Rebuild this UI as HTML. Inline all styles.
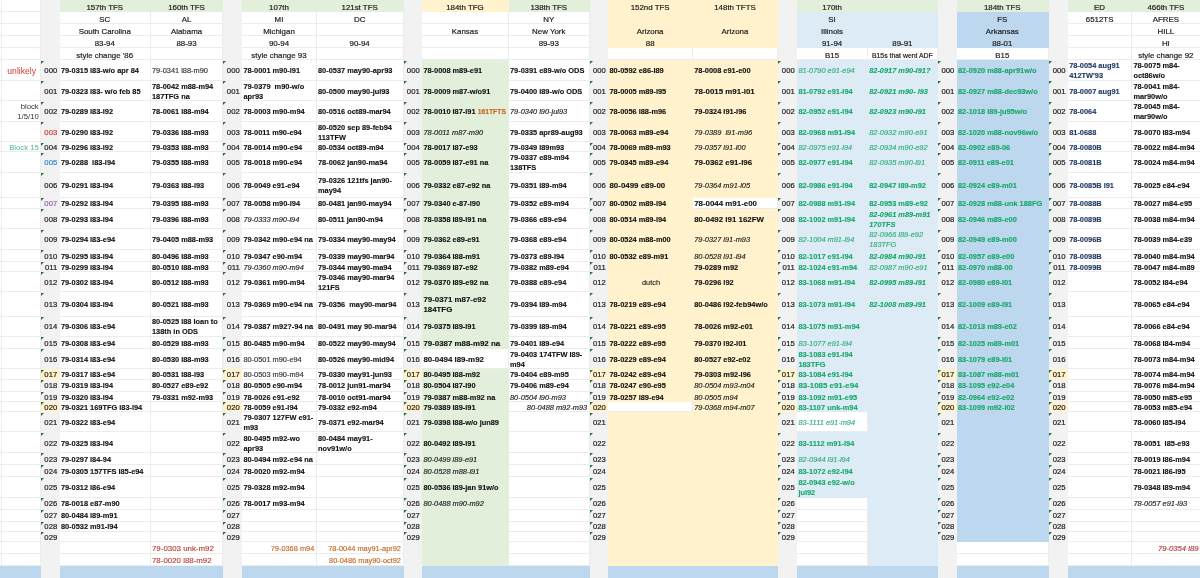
<!DOCTYPE html>
<html><head><meta charset="utf-8"><title>sheet</title><style>
html,body{margin:0;padding:0;background:#fff;}
body{width:1200px;height:578px;overflow:hidden;position:relative;font-family:"Liberation Sans",sans-serif;}
#w{position:absolute;left:0;top:0;width:1200px;height:578px;will-change:transform;}
.r{position:absolute;}
.c{position:absolute;display:flex;align-items:center;box-sizing:border-box;white-space:nowrap;color:#1a1a1a;font-size:7.4px;line-height:10.2px;}
.c>span{display:block;position:relative;top:0.7px;}
.h>span{top:1.7px;}
.c.sh>span{top:1.3px;}
.h{-webkit-text-stroke:0.2px currentColor;justify-content:center;font-size:7.9px;color:#222;}
.h .sm{font-size:6.9px;}
.ix{-webkit-text-stroke:0.2px currentColor;justify-content:flex-end;padding-right:2px;font-size:7.7px;color:#222;}
.a{justify-content:flex-end;text-align:right;padding-right:1.3px;font-size:7.7px;color:#333;}
.d{-webkit-text-stroke:0.12px currentColor;padding-left:1.7px;font-weight:bold;color:#111;}
.d.n{font-weight:normal;}
.d.g{-webkit-text-stroke:0.15px currentColor;font-weight:normal;color:#333;}
.d.i{-webkit-text-stroke:0.15px currentColor;font-weight:normal;font-style:italic;color:#1a1a1a;}
.d.bi{font-style:italic;}
.d.big{font-size:7.9px;}
.d.rt{justify-content:flex-end;padding-right:2px;}
.d.ctr{justify-content:center;color:#222;}
.gr,.d.gr{color:#17a868;}
.d.gr.i{color:#2fae78;}
.d.nv{color:#1f3864;}
.red{color:#c9403a;}
.blu{color:#3a86c8;}
.pur{color:#9460b8;}
.teal{color:#55b596;}
.or,.d.or{color:#c5621c;}
.d.rd{color:#b93a32;}
.sm2{font-size:6.8px;}
.t{position:absolute;width:0;height:0;border-top:3.7px solid #1f7038;border-right:3.7px solid transparent;}
</style></head><body><div id="w">
<div class="r" style="left:1px;top:0;width:1px;height:578px;background:#ececec"></div>
<div class="r" style="left:40px;top:0;width:1px;height:578px;background:#ececec"></div>
<div class="r" style="left:59px;top:0;width:1px;height:578px;background:#ececec"></div>
<div class="r" style="left:150px;top:0;width:1px;height:578px;background:#ececec"></div>
<div class="r" style="left:222px;top:0;width:1px;height:578px;background:#ececec"></div>
<div class="r" style="left:241px;top:0;width:1px;height:578px;background:#ececec"></div>
<div class="r" style="left:316px;top:0;width:1px;height:578px;background:#ececec"></div>
<div class="r" style="left:403px;top:0;width:1px;height:578px;background:#ececec"></div>
<div class="r" style="left:421px;top:0;width:1px;height:578px;background:#ececec"></div>
<div class="r" style="left:508px;top:0;width:1px;height:578px;background:#ececec"></div>
<div class="r" style="left:589px;top:0;width:1px;height:578px;background:#ececec"></div>
<div class="r" style="left:607px;top:0;width:1px;height:578px;background:#ececec"></div>
<div class="r" style="left:692px;top:0;width:1px;height:578px;background:#ececec"></div>
<div class="r" style="left:777px;top:0;width:1px;height:578px;background:#ececec"></div>
<div class="r" style="left:796px;top:0;width:1px;height:578px;background:#ececec"></div>
<div class="r" style="left:867px;top:0;width:1px;height:578px;background:#ececec"></div>
<div class="r" style="left:937px;top:0;width:1px;height:578px;background:#ececec"></div>
<div class="r" style="left:956px;top:0;width:1px;height:578px;background:#ececec"></div>
<div class="r" style="left:1048px;top:0;width:1px;height:578px;background:#ececec"></div>
<div class="r" style="left:1067px;top:0;width:1px;height:578px;background:#ececec"></div>
<div class="r" style="left:1131px;top:0;width:1px;height:578px;background:#ececec"></div>
<div class="r" style="left:0;top:11px;width:1200px;height:1px;background:#ececec"></div>
<div class="r" style="left:0;top:23px;width:1200px;height:1px;background:#ececec"></div>
<div class="r" style="left:0;top:35px;width:1200px;height:1px;background:#ececec"></div>
<div class="r" style="left:0;top:47px;width:1200px;height:1px;background:#ececec"></div>
<div class="r" style="left:0;top:59px;width:1200px;height:1px;background:#ececec"></div>
<div class="r" style="left:0;top:80px;width:1200px;height:1px;background:#ececec"></div>
<div class="r" style="left:0;top:100px;width:1200px;height:1px;background:#ececec"></div>
<div class="r" style="left:0;top:121px;width:1200px;height:1px;background:#ececec"></div>
<div class="r" style="left:0;top:141px;width:1200px;height:1px;background:#ececec"></div>
<div class="r" style="left:0;top:151px;width:1200px;height:1px;background:#ececec"></div>
<div class="r" style="left:0;top:172px;width:1200px;height:1px;background:#ececec"></div>
<div class="r" style="left:0;top:197px;width:1200px;height:1px;background:#ececec"></div>
<div class="r" style="left:0;top:208px;width:1200px;height:1px;background:#ececec"></div>
<div class="r" style="left:0;top:228px;width:1200px;height:1px;background:#ececec"></div>
<div class="r" style="left:0;top:249px;width:1200px;height:1px;background:#ececec"></div>
<div class="r" style="left:0;top:261px;width:1200px;height:1px;background:#ececec"></div>
<div class="r" style="left:0;top:271px;width:1200px;height:1px;background:#ececec"></div>
<div class="r" style="left:0;top:291px;width:1200px;height:1px;background:#ececec"></div>
<div class="r" style="left:0;top:316px;width:1200px;height:1px;background:#ececec"></div>
<div class="r" style="left:0;top:336px;width:1200px;height:1px;background:#ececec"></div>
<div class="r" style="left:0;top:348px;width:1200px;height:1px;background:#ececec"></div>
<div class="r" style="left:0;top:368px;width:1200px;height:1px;background:#ececec"></div>
<div class="r" style="left:0;top:379px;width:1200px;height:1px;background:#ececec"></div>
<div class="r" style="left:0;top:391px;width:1200px;height:1px;background:#ececec"></div>
<div class="r" style="left:0;top:401px;width:1200px;height:1px;background:#ececec"></div>
<div class="r" style="left:0;top:411px;width:1200px;height:1px;background:#ececec"></div>
<div class="r" style="left:0;top:431px;width:1200px;height:1px;background:#ececec"></div>
<div class="r" style="left:0;top:452px;width:1200px;height:1px;background:#ececec"></div>
<div class="r" style="left:0;top:464px;width:1200px;height:1px;background:#ececec"></div>
<div class="r" style="left:0;top:476px;width:1200px;height:1px;background:#ececec"></div>
<div class="r" style="left:0;top:497px;width:1200px;height:1px;background:#ececec"></div>
<div class="r" style="left:0;top:509px;width:1200px;height:1px;background:#ececec"></div>
<div class="r" style="left:0;top:521px;width:1200px;height:1px;background:#ececec"></div>
<div class="r" style="left:0;top:531px;width:1200px;height:1px;background:#ececec"></div>
<div class="r" style="left:0;top:541px;width:1200px;height:1px;background:#ececec"></div>
<div class="r" style="left:0;top:553px;width:1200px;height:1px;background:#ececec"></div>
<div class="r" style="left:0;top:565px;width:1200px;height:1px;background:#ececec"></div>
<div class="r" style="left:0.0px;top:566.0px;width:1200.0px;height:12.0px;background:#bdd7ee;"></div>
<div class="r" style="left:60.0px;top:0.0px;width:163.0px;height:12.0px;background:#e2efda;"></div>
<div class="r" style="left:242.0px;top:0.0px;width:162.0px;height:12.0px;background:#e2efda;"></div>
<div class="r" style="left:422.0px;top:0.0px;width:87.0px;height:12.0px;background:#fff2cc;"></div>
<div class="r" style="left:509.0px;top:0.0px;width:81.0px;height:12.0px;background:#e2efda;"></div>
<div class="r" style="left:608.0px;top:0.0px;width:170.0px;height:12.0px;background:#fff2cc;"></div>
<div class="r" style="left:797.0px;top:0.0px;width:141.0px;height:12.0px;background:#e2efda;"></div>
<div class="r" style="left:957.0px;top:0.0px;width:92.0px;height:12.0px;background:#e2efda;"></div>
<div class="r" style="left:1068.0px;top:0.0px;width:132.0px;height:12.0px;background:#e2efda;"></div>
<div class="r" style="left:422.0px;top:60.0px;width:87.0px;height:289.0px;background:#e2efda;"></div>
<div class="r" style="left:422.0px;top:369.0px;width:87.0px;height:197.0px;background:#e2efda;"></div>
<div class="r" style="left:608.0px;top:0.0px;width:170.0px;height:48.0px;background:#fff2cc;"></div>
<div class="r" style="left:608.0px;top:60.0px;width:85.0px;height:342.0px;background:#fff2cc;"></div>
<div class="r" style="left:608.0px;top:412.0px;width:85.0px;height:154.0px;background:#fff2cc;"></div>
<div class="r" style="left:693.0px;top:60.0px;width:85.0px;height:138.0px;background:#fff2cc;"></div>
<div class="r" style="left:693.0px;top:209.0px;width:85.0px;height:357.0px;background:#fff2cc;"></div>
<div class="r" style="left:797.0px;top:12.0px;width:141.0px;height:36.0px;background:#ddebf7;"></div>
<div class="r" style="left:797.0px;top:60.0px;width:71.0px;height:352.0px;background:#ddebf7;"></div>
<div class="r" style="left:797.0px;top:432.0px;width:71.0px;height:66.0px;background:#ddebf7;"></div>
<div class="r" style="left:868.0px;top:60.0px;width:70.0px;height:506.0px;background:#ddebf7;"></div>
<div class="r" style="left:957.0px;top:12.0px;width:92.0px;height:36.0px;background:#bdd7ee;"></div>
<div class="r" style="left:957.0px;top:60.0px;width:92.0px;height:482.0px;background:#bdd7ee;"></div>
<div class="r" style="left:41.0px;top:0.0px;width:19.0px;height:578.0px;background:#f2f2f2;"></div>
<div class="r" style="left:41.0px;top:369.0px;width:19.0px;height:11.0px;background:#fff2cc;"></div>
<div class="r" style="left:41.0px;top:402.0px;width:19.0px;height:10.0px;background:#fff2cc;"></div>
<div class="r" style="left:223.0px;top:0.0px;width:19.0px;height:578.0px;background:#f2f2f2;"></div>
<div class="r" style="left:223.0px;top:369.0px;width:19.0px;height:11.0px;background:#fff2cc;"></div>
<div class="r" style="left:223.0px;top:402.0px;width:19.0px;height:10.0px;background:#fff2cc;"></div>
<div class="r" style="left:404.0px;top:0.0px;width:18.0px;height:578.0px;background:#f2f2f2;"></div>
<div class="r" style="left:404.0px;top:369.0px;width:18.0px;height:11.0px;background:#fff2cc;"></div>
<div class="r" style="left:404.0px;top:402.0px;width:18.0px;height:10.0px;background:#fff2cc;"></div>
<div class="r" style="left:590.0px;top:0.0px;width:18.0px;height:578.0px;background:#f2f2f2;"></div>
<div class="r" style="left:590.0px;top:369.0px;width:18.0px;height:11.0px;background:#fff2cc;"></div>
<div class="r" style="left:590.0px;top:402.0px;width:18.0px;height:10.0px;background:#fff2cc;"></div>
<div class="r" style="left:778.0px;top:0.0px;width:19.0px;height:578.0px;background:#f2f2f2;"></div>
<div class="r" style="left:778.0px;top:369.0px;width:19.0px;height:11.0px;background:#fff2cc;"></div>
<div class="r" style="left:778.0px;top:402.0px;width:19.0px;height:10.0px;background:#fff2cc;"></div>
<div class="r" style="left:938.0px;top:0.0px;width:19.0px;height:578.0px;background:#f2f2f2;"></div>
<div class="r" style="left:938.0px;top:369.0px;width:19.0px;height:11.0px;background:#fff2cc;"></div>
<div class="r" style="left:938.0px;top:402.0px;width:19.0px;height:10.0px;background:#fff2cc;"></div>
<div class="r" style="left:1049.0px;top:0.0px;width:19.0px;height:578.0px;background:#f2f2f2;"></div>
<div class="r" style="left:1049.0px;top:369.0px;width:19.0px;height:11.0px;background:#fff2cc;"></div>
<div class="r" style="left:1049.0px;top:402.0px;width:19.0px;height:10.0px;background:#fff2cc;"></div>
<div class="c h" style="left:59.2px;top:0.0px;width:91.1px;height:12.1px;"><span>157th TFS</span></div>
<div class="c h" style="left:59.2px;top:12.1px;width:91.1px;height:12.1px;"><span>SC</span></div>
<div class="c h" style="left:59.2px;top:24.2px;width:91.1px;height:12.0px;"><span>South Carolina</span></div>
<div class="c h" style="left:59.2px;top:36.2px;width:91.1px;height:12.0px;"><span>83-94</span></div>
<div class="c h" style="left:59.2px;top:48.2px;width:91.1px;height:12.1px;"><span>style change '86</span></div>
<div class="c h" style="left:150.3px;top:0.0px;width:72.5px;height:12.1px;"><span>160th TFS</span></div>
<div class="c h" style="left:150.3px;top:12.1px;width:72.5px;height:12.1px;"><span>AL</span></div>
<div class="c h" style="left:150.3px;top:24.2px;width:72.5px;height:12.0px;"><span>Alabama</span></div>
<div class="c h" style="left:150.3px;top:36.2px;width:72.5px;height:12.0px;"><span>88-93</span></div>
<div class="c h" style="left:241.7px;top:0.0px;width:74.6px;height:12.1px;"><span>107th</span></div>
<div class="c h" style="left:241.7px;top:12.1px;width:74.6px;height:12.1px;"><span>MI</span></div>
<div class="c h" style="left:241.7px;top:24.2px;width:74.6px;height:12.0px;"><span>Michigan</span></div>
<div class="c h" style="left:241.7px;top:36.2px;width:74.6px;height:12.0px;"><span>90-94</span></div>
<div class="c h" style="left:241.7px;top:48.2px;width:74.6px;height:12.1px;"><span>style change 93</span></div>
<div class="c h" style="left:316.3px;top:0.0px;width:86.7px;height:12.1px;"><span>121st TFS</span></div>
<div class="c h" style="left:316.3px;top:12.1px;width:86.7px;height:12.1px;"><span>DC</span></div>
<div class="c h" style="left:316.3px;top:36.2px;width:86.7px;height:12.0px;"><span>90-94</span></div>
<div class="c h" style="left:421.7px;top:0.0px;width:86.6px;height:12.1px;"><span>184th TFG</span></div>
<div class="c h" style="left:421.7px;top:24.2px;width:86.6px;height:12.0px;"><span>Kansas</span></div>
<div class="c h" style="left:508.3px;top:0.0px;width:80.9px;height:12.1px;"><span>138th TFS</span></div>
<div class="c h" style="left:508.3px;top:12.1px;width:80.9px;height:12.1px;"><span>NY</span></div>
<div class="c h" style="left:508.3px;top:24.2px;width:80.9px;height:12.0px;"><span>New York</span></div>
<div class="c h" style="left:508.3px;top:36.2px;width:80.9px;height:12.0px;"><span>89-93</span></div>
<div class="c h" style="left:607.8px;top:0.0px;width:84.7px;height:12.1px;"><span>152nd TFS</span></div>
<div class="c h" style="left:607.8px;top:24.2px;width:84.7px;height:12.0px;"><span>Arizona</span></div>
<div class="c h" style="left:607.8px;top:36.2px;width:84.7px;height:12.0px;"><span>88</span></div>
<div class="c h" style="left:692.5px;top:0.0px;width:85.0px;height:12.1px;"><span>148th TFTS</span></div>
<div class="c h" style="left:692.5px;top:24.2px;width:85.0px;height:12.0px;"><span>Arizona</span></div>
<div class="c h" style="left:796.7px;top:0.0px;width:70.8px;height:12.1px;"><span>170th</span></div>
<div class="c h" style="left:796.7px;top:12.1px;width:70.8px;height:12.1px;"><span>SI</span></div>
<div class="c h" style="left:796.7px;top:24.2px;width:70.8px;height:12.0px;"><span>Illinois</span></div>
<div class="c h" style="left:796.7px;top:36.2px;width:70.8px;height:12.0px;"><span>91-94</span></div>
<div class="c h" style="left:796.7px;top:48.2px;width:70.8px;height:12.1px;"><span>B15</span></div>
<div class="c h" style="left:867.5px;top:36.2px;width:69.7px;height:12.0px;"><span>89-91</span></div>
<div class="c h" style="left:867.5px;top:48.2px;width:69.7px;height:12.1px;"><span><span class="sm">B15s that went ADF</span></span></div>
<div class="c h" style="left:956.3px;top:0.0px;width:92.0px;height:12.1px;"><span>184th TFS</span></div>
<div class="c h" style="left:956.3px;top:12.1px;width:92.0px;height:12.1px;"><span>FS</span></div>
<div class="c h" style="left:956.3px;top:24.2px;width:92.0px;height:12.0px;"><span>Arkansas</span></div>
<div class="c h" style="left:956.3px;top:36.2px;width:92.0px;height:12.0px;"><span>88-01</span></div>
<div class="c h" style="left:956.3px;top:48.2px;width:92.0px;height:12.1px;"><span>B15</span></div>
<div class="c h" style="left:1067.5px;top:0.0px;width:64.2px;height:12.1px;"><span>ED</span></div>
<div class="c h" style="left:1067.5px;top:12.1px;width:64.2px;height:12.1px;"><span>6512TS</span></div>
<div class="c h" style="left:1131.7px;top:0.0px;width:68.3px;height:12.1px;"><span>466th TFS</span></div>
<div class="c h" style="left:1131.7px;top:12.1px;width:68.3px;height:12.1px;"><span>AFRES</span></div>
<div class="c h" style="left:1131.7px;top:24.2px;width:68.3px;height:12.0px;"><span>HILL</span></div>
<div class="c h" style="left:1131.7px;top:36.2px;width:68.3px;height:12.0px;"><span>HI</span></div>
<div class="c h" style="left:1131.7px;top:48.2px;width:68.3px;height:12.1px;"><span>style change 92</span></div>
<div class="c ix" style="left:40.0px;top:60.3px;width:19.2px;height:20.5px;"><span>000</span></div>
<div class="t" style="left:40.6px;top:60.6px"></div>
<div class="c ix" style="left:40.0px;top:80.8px;width:19.2px;height:20.5px;"><span>001</span></div>
<div class="t" style="left:40.6px;top:81.1px"></div>
<div class="c ix" style="left:40.0px;top:101.3px;width:19.2px;height:20.5px;"><span>002</span></div>
<div class="t" style="left:40.6px;top:101.6px"></div>
<div class="c ix red" style="left:40.0px;top:121.8px;width:19.2px;height:20.5px;"><span>003</span></div>
<div class="t" style="left:40.6px;top:122.1px"></div>
<div class="c ix sh" style="left:40.0px;top:142.3px;width:19.2px;height:10.2px;margin-top:-1px;"><span>004</span></div>
<div class="t" style="left:40.6px;top:142.6px"></div>
<div class="c ix blu" style="left:40.0px;top:152.5px;width:19.2px;height:20.4px;"><span>005</span></div>
<div class="t" style="left:40.6px;top:152.8px"></div>
<div class="c ix" style="left:40.0px;top:172.9px;width:19.2px;height:24.7px;"><span>006</span></div>
<div class="t" style="left:40.6px;top:173.2px"></div>
<div class="c ix pur sh" style="left:40.0px;top:197.6px;width:19.2px;height:11.3px;"><span>007</span></div>
<div class="t" style="left:40.6px;top:197.9px"></div>
<div class="c ix" style="left:40.0px;top:208.9px;width:19.2px;height:20.5px;"><span>008</span></div>
<div class="t" style="left:40.6px;top:209.2px"></div>
<div class="c ix" style="left:40.0px;top:229.4px;width:19.2px;height:20.3px;"><span>009</span></div>
<div class="t" style="left:40.6px;top:229.7px"></div>
<div class="c ix sh" style="left:40.0px;top:249.7px;width:19.2px;height:12.0px;"><span>010</span></div>
<div class="t" style="left:40.6px;top:250.0px"></div>
<div class="c ix sh" style="left:40.0px;top:261.7px;width:19.2px;height:10.4px;"><span>011</span></div>
<div class="t" style="left:40.6px;top:262.0px"></div>
<div class="c ix" style="left:40.0px;top:272.1px;width:19.2px;height:20.4px;"><span>012</span></div>
<div class="t" style="left:40.6px;top:272.4px"></div>
<div class="c ix" style="left:40.0px;top:292.5px;width:19.2px;height:24.2px;"><span>013</span></div>
<div class="t" style="left:40.6px;top:292.8px"></div>
<div class="c ix" style="left:40.0px;top:316.7px;width:19.2px;height:20.1px;"><span>014</span></div>
<div class="t" style="left:40.6px;top:317.0px"></div>
<div class="c ix sh" style="left:40.0px;top:336.8px;width:19.2px;height:12.1px;"><span>015</span></div>
<div class="t" style="left:40.6px;top:337.1px"></div>
<div class="c ix" style="left:40.0px;top:348.9px;width:19.2px;height:20.4px;"><span>016</span></div>
<div class="t" style="left:40.6px;top:349.2px"></div>
<div class="c ix sh" style="left:40.0px;top:369.3px;width:19.2px;height:10.4px;margin-top:-1px;"><span>017</span></div>
<div class="t" style="left:40.6px;top:369.6px"></div>
<div class="c ix sh" style="left:40.0px;top:379.7px;width:19.2px;height:12.1px;margin-top:-1px;"><span>018</span></div>
<div class="t" style="left:40.6px;top:380.0px"></div>
<div class="c ix sh" style="left:40.0px;top:391.8px;width:19.2px;height:10.2px;"><span>019</span></div>
<div class="t" style="left:40.6px;top:392.1px"></div>
<div class="c ix sh" style="left:40.0px;top:402.0px;width:19.2px;height:10.3px;"><span>020</span></div>
<div class="t" style="left:40.6px;top:402.3px"></div>
<div class="c ix" style="left:40.0px;top:412.3px;width:19.2px;height:20.2px;"><span>021</span></div>
<div class="t" style="left:40.6px;top:412.6px"></div>
<div class="c ix" style="left:40.0px;top:432.5px;width:19.2px;height:20.6px;margin-top:1px;"><span>022</span></div>
<div class="t" style="left:40.6px;top:432.8px"></div>
<div class="c ix sh" style="left:40.0px;top:453.1px;width:19.2px;height:12.0px;"><span>023</span></div>
<div class="t" style="left:40.6px;top:453.4px"></div>
<div class="c ix sh" style="left:40.0px;top:465.1px;width:19.2px;height:12.1px;"><span>024</span></div>
<div class="t" style="left:40.6px;top:465.4px"></div>
<div class="c ix" style="left:40.0px;top:477.2px;width:19.2px;height:20.3px;"><span>025</span></div>
<div class="t" style="left:40.6px;top:477.5px"></div>
<div class="c ix sh" style="left:40.0px;top:497.5px;width:19.2px;height:12.2px;margin-top:-1px;"><span>026</span></div>
<div class="t" style="left:40.6px;top:497.8px"></div>
<div class="c ix sh" style="left:40.0px;top:509.7px;width:19.2px;height:12.1px;margin-top:-1px;"><span>027</span></div>
<div class="t" style="left:40.6px;top:510.0px"></div>
<div class="c ix sh" style="left:40.0px;top:521.8px;width:19.2px;height:10.2px;margin-top:-1px;"><span>028</span></div>
<div class="t" style="left:40.6px;top:522.1px"></div>
<div class="c ix sh" style="left:40.0px;top:532.0px;width:19.2px;height:9.9px;"><span>029</span></div>
<div class="t" style="left:40.6px;top:532.3px"></div>
<div class="c ix" style="left:222.8px;top:60.3px;width:18.9px;height:20.5px;"><span>000</span></div>
<div class="t" style="left:223.4px;top:60.6px"></div>
<div class="c ix" style="left:222.8px;top:80.8px;width:18.9px;height:20.5px;"><span>001</span></div>
<div class="t" style="left:223.4px;top:81.1px"></div>
<div class="c ix" style="left:222.8px;top:101.3px;width:18.9px;height:20.5px;"><span>002</span></div>
<div class="t" style="left:223.4px;top:101.6px"></div>
<div class="c ix" style="left:222.8px;top:121.8px;width:18.9px;height:20.5px;"><span>003</span></div>
<div class="t" style="left:223.4px;top:122.1px"></div>
<div class="c ix sh" style="left:222.8px;top:142.3px;width:18.9px;height:10.2px;margin-top:-1px;"><span>004</span></div>
<div class="t" style="left:223.4px;top:142.6px"></div>
<div class="c ix" style="left:222.8px;top:152.5px;width:18.9px;height:20.4px;"><span>005</span></div>
<div class="t" style="left:223.4px;top:152.8px"></div>
<div class="c ix" style="left:222.8px;top:172.9px;width:18.9px;height:24.7px;"><span>006</span></div>
<div class="t" style="left:223.4px;top:173.2px"></div>
<div class="c ix sh" style="left:222.8px;top:197.6px;width:18.9px;height:11.3px;"><span>007</span></div>
<div class="t" style="left:223.4px;top:197.9px"></div>
<div class="c ix" style="left:222.8px;top:208.9px;width:18.9px;height:20.5px;"><span>008</span></div>
<div class="t" style="left:223.4px;top:209.2px"></div>
<div class="c ix" style="left:222.8px;top:229.4px;width:18.9px;height:20.3px;"><span>009</span></div>
<div class="t" style="left:223.4px;top:229.7px"></div>
<div class="c ix sh" style="left:222.8px;top:249.7px;width:18.9px;height:12.0px;"><span>010</span></div>
<div class="t" style="left:223.4px;top:250.0px"></div>
<div class="c ix sh" style="left:222.8px;top:261.7px;width:18.9px;height:10.4px;"><span>011</span></div>
<div class="t" style="left:223.4px;top:262.0px"></div>
<div class="c ix" style="left:222.8px;top:272.1px;width:18.9px;height:20.4px;"><span>012</span></div>
<div class="t" style="left:223.4px;top:272.4px"></div>
<div class="c ix" style="left:222.8px;top:292.5px;width:18.9px;height:24.2px;"><span>013</span></div>
<div class="t" style="left:223.4px;top:292.8px"></div>
<div class="c ix" style="left:222.8px;top:316.7px;width:18.9px;height:20.1px;"><span>014</span></div>
<div class="t" style="left:223.4px;top:317.0px"></div>
<div class="c ix sh" style="left:222.8px;top:336.8px;width:18.9px;height:12.1px;"><span>015</span></div>
<div class="t" style="left:223.4px;top:337.1px"></div>
<div class="c ix" style="left:222.8px;top:348.9px;width:18.9px;height:20.4px;"><span>016</span></div>
<div class="t" style="left:223.4px;top:349.2px"></div>
<div class="c ix sh" style="left:222.8px;top:369.3px;width:18.9px;height:10.4px;margin-top:-1px;"><span>017</span></div>
<div class="t" style="left:223.4px;top:369.6px"></div>
<div class="c ix sh" style="left:222.8px;top:379.7px;width:18.9px;height:12.1px;margin-top:-1px;"><span>018</span></div>
<div class="t" style="left:223.4px;top:380.0px"></div>
<div class="c ix sh" style="left:222.8px;top:391.8px;width:18.9px;height:10.2px;"><span>019</span></div>
<div class="t" style="left:223.4px;top:392.1px"></div>
<div class="c ix sh" style="left:222.8px;top:402.0px;width:18.9px;height:10.3px;"><span>020</span></div>
<div class="t" style="left:223.4px;top:402.3px"></div>
<div class="c ix" style="left:222.8px;top:412.3px;width:18.9px;height:20.2px;"><span>021</span></div>
<div class="t" style="left:223.4px;top:412.6px"></div>
<div class="c ix" style="left:222.8px;top:432.5px;width:18.9px;height:20.6px;margin-top:1px;"><span>022</span></div>
<div class="t" style="left:223.4px;top:432.8px"></div>
<div class="c ix sh" style="left:222.8px;top:453.1px;width:18.9px;height:12.0px;"><span>023</span></div>
<div class="t" style="left:223.4px;top:453.4px"></div>
<div class="c ix sh" style="left:222.8px;top:465.1px;width:18.9px;height:12.1px;"><span>024</span></div>
<div class="t" style="left:223.4px;top:465.4px"></div>
<div class="c ix" style="left:222.8px;top:477.2px;width:18.9px;height:20.3px;"><span>025</span></div>
<div class="t" style="left:223.4px;top:477.5px"></div>
<div class="c ix sh" style="left:222.8px;top:497.5px;width:18.9px;height:12.2px;margin-top:-1px;"><span>026</span></div>
<div class="t" style="left:223.4px;top:497.8px"></div>
<div class="c ix sh" style="left:222.8px;top:509.7px;width:18.9px;height:12.1px;margin-top:-1px;"><span>027</span></div>
<div class="t" style="left:223.4px;top:510.0px"></div>
<div class="c ix sh" style="left:222.8px;top:521.8px;width:18.9px;height:10.2px;margin-top:-1px;"><span>028</span></div>
<div class="t" style="left:223.4px;top:522.1px"></div>
<div class="c ix sh" style="left:222.8px;top:532.0px;width:18.9px;height:9.9px;"><span>029</span></div>
<div class="t" style="left:223.4px;top:532.3px"></div>
<div class="c ix" style="left:403.0px;top:60.3px;width:18.7px;height:20.5px;"><span>000</span></div>
<div class="t" style="left:403.6px;top:60.6px"></div>
<div class="c ix" style="left:403.0px;top:80.8px;width:18.7px;height:20.5px;"><span>001</span></div>
<div class="t" style="left:403.6px;top:81.1px"></div>
<div class="c ix" style="left:403.0px;top:101.3px;width:18.7px;height:20.5px;"><span>002</span></div>
<div class="t" style="left:403.6px;top:101.6px"></div>
<div class="c ix" style="left:403.0px;top:121.8px;width:18.7px;height:20.5px;"><span>003</span></div>
<div class="t" style="left:403.6px;top:122.1px"></div>
<div class="c ix sh" style="left:403.0px;top:142.3px;width:18.7px;height:10.2px;margin-top:-1px;"><span>004</span></div>
<div class="t" style="left:403.6px;top:142.6px"></div>
<div class="c ix" style="left:403.0px;top:152.5px;width:18.7px;height:20.4px;"><span>005</span></div>
<div class="t" style="left:403.6px;top:152.8px"></div>
<div class="c ix" style="left:403.0px;top:172.9px;width:18.7px;height:24.7px;"><span>006</span></div>
<div class="t" style="left:403.6px;top:173.2px"></div>
<div class="c ix sh" style="left:403.0px;top:197.6px;width:18.7px;height:11.3px;"><span>007</span></div>
<div class="t" style="left:403.6px;top:197.9px"></div>
<div class="c ix" style="left:403.0px;top:208.9px;width:18.7px;height:20.5px;"><span>008</span></div>
<div class="t" style="left:403.6px;top:209.2px"></div>
<div class="c ix" style="left:403.0px;top:229.4px;width:18.7px;height:20.3px;"><span>009</span></div>
<div class="t" style="left:403.6px;top:229.7px"></div>
<div class="c ix sh" style="left:403.0px;top:249.7px;width:18.7px;height:12.0px;"><span>010</span></div>
<div class="t" style="left:403.6px;top:250.0px"></div>
<div class="c ix sh" style="left:403.0px;top:261.7px;width:18.7px;height:10.4px;"><span>011</span></div>
<div class="t" style="left:403.6px;top:262.0px"></div>
<div class="c ix" style="left:403.0px;top:272.1px;width:18.7px;height:20.4px;"><span>012</span></div>
<div class="t" style="left:403.6px;top:272.4px"></div>
<div class="c ix" style="left:403.0px;top:292.5px;width:18.7px;height:24.2px;"><span>013</span></div>
<div class="t" style="left:403.6px;top:292.8px"></div>
<div class="c ix" style="left:403.0px;top:316.7px;width:18.7px;height:20.1px;"><span>014</span></div>
<div class="t" style="left:403.6px;top:317.0px"></div>
<div class="c ix sh" style="left:403.0px;top:336.8px;width:18.7px;height:12.1px;"><span>015</span></div>
<div class="t" style="left:403.6px;top:337.1px"></div>
<div class="c ix" style="left:403.0px;top:348.9px;width:18.7px;height:20.4px;"><span>016</span></div>
<div class="t" style="left:403.6px;top:349.2px"></div>
<div class="c ix sh" style="left:403.0px;top:369.3px;width:18.7px;height:10.4px;margin-top:-1px;"><span>017</span></div>
<div class="t" style="left:403.6px;top:369.6px"></div>
<div class="c ix sh" style="left:403.0px;top:379.7px;width:18.7px;height:12.1px;margin-top:-1px;"><span>018</span></div>
<div class="t" style="left:403.6px;top:380.0px"></div>
<div class="c ix sh" style="left:403.0px;top:391.8px;width:18.7px;height:10.2px;"><span>019</span></div>
<div class="t" style="left:403.6px;top:392.1px"></div>
<div class="c ix sh" style="left:403.0px;top:402.0px;width:18.7px;height:10.3px;"><span>020</span></div>
<div class="t" style="left:403.6px;top:402.3px"></div>
<div class="c ix" style="left:403.0px;top:412.3px;width:18.7px;height:20.2px;"><span>021</span></div>
<div class="t" style="left:403.6px;top:412.6px"></div>
<div class="c ix" style="left:403.0px;top:432.5px;width:18.7px;height:20.6px;margin-top:1px;"><span>022</span></div>
<div class="t" style="left:403.6px;top:432.8px"></div>
<div class="c ix sh" style="left:403.0px;top:453.1px;width:18.7px;height:12.0px;"><span>023</span></div>
<div class="t" style="left:403.6px;top:453.4px"></div>
<div class="c ix sh" style="left:403.0px;top:465.1px;width:18.7px;height:12.1px;"><span>024</span></div>
<div class="t" style="left:403.6px;top:465.4px"></div>
<div class="c ix" style="left:403.0px;top:477.2px;width:18.7px;height:20.3px;"><span>025</span></div>
<div class="t" style="left:403.6px;top:477.5px"></div>
<div class="c ix sh" style="left:403.0px;top:497.5px;width:18.7px;height:12.2px;margin-top:-1px;"><span>026</span></div>
<div class="t" style="left:403.6px;top:497.8px"></div>
<div class="c ix sh" style="left:403.0px;top:509.7px;width:18.7px;height:12.1px;margin-top:-1px;"><span>027</span></div>
<div class="t" style="left:403.6px;top:510.0px"></div>
<div class="c ix sh" style="left:403.0px;top:521.8px;width:18.7px;height:10.2px;margin-top:-1px;"><span>028</span></div>
<div class="t" style="left:403.6px;top:522.1px"></div>
<div class="c ix sh" style="left:403.0px;top:532.0px;width:18.7px;height:9.9px;"><span>029</span></div>
<div class="t" style="left:403.6px;top:532.3px"></div>
<div class="c ix" style="left:589.2px;top:60.3px;width:18.6px;height:20.5px;"><span>000</span></div>
<div class="t" style="left:589.8px;top:60.6px"></div>
<div class="c ix" style="left:589.2px;top:80.8px;width:18.6px;height:20.5px;"><span>001</span></div>
<div class="t" style="left:589.8px;top:81.1px"></div>
<div class="c ix" style="left:589.2px;top:101.3px;width:18.6px;height:20.5px;"><span>002</span></div>
<div class="t" style="left:589.8px;top:101.6px"></div>
<div class="c ix" style="left:589.2px;top:121.8px;width:18.6px;height:20.5px;"><span>003</span></div>
<div class="t" style="left:589.8px;top:122.1px"></div>
<div class="c ix sh" style="left:589.2px;top:142.3px;width:18.6px;height:10.2px;margin-top:-1px;"><span>004</span></div>
<div class="t" style="left:589.8px;top:142.6px"></div>
<div class="c ix" style="left:589.2px;top:152.5px;width:18.6px;height:20.4px;"><span>005</span></div>
<div class="t" style="left:589.8px;top:152.8px"></div>
<div class="c ix" style="left:589.2px;top:172.9px;width:18.6px;height:24.7px;"><span>006</span></div>
<div class="t" style="left:589.8px;top:173.2px"></div>
<div class="c ix sh" style="left:589.2px;top:197.6px;width:18.6px;height:11.3px;"><span>007</span></div>
<div class="t" style="left:589.8px;top:197.9px"></div>
<div class="c ix" style="left:589.2px;top:208.9px;width:18.6px;height:20.5px;"><span>008</span></div>
<div class="t" style="left:589.8px;top:209.2px"></div>
<div class="c ix" style="left:589.2px;top:229.4px;width:18.6px;height:20.3px;"><span>009</span></div>
<div class="t" style="left:589.8px;top:229.7px"></div>
<div class="c ix sh" style="left:589.2px;top:249.7px;width:18.6px;height:12.0px;"><span>010</span></div>
<div class="t" style="left:589.8px;top:250.0px"></div>
<div class="c ix sh" style="left:589.2px;top:261.7px;width:18.6px;height:10.4px;"><span>011</span></div>
<div class="t" style="left:589.8px;top:262.0px"></div>
<div class="c ix" style="left:589.2px;top:272.1px;width:18.6px;height:20.4px;"><span>012</span></div>
<div class="t" style="left:589.8px;top:272.4px"></div>
<div class="c ix" style="left:589.2px;top:292.5px;width:18.6px;height:24.2px;"><span>013</span></div>
<div class="t" style="left:589.8px;top:292.8px"></div>
<div class="c ix" style="left:589.2px;top:316.7px;width:18.6px;height:20.1px;"><span>014</span></div>
<div class="t" style="left:589.8px;top:317.0px"></div>
<div class="c ix sh" style="left:589.2px;top:336.8px;width:18.6px;height:12.1px;"><span>015</span></div>
<div class="t" style="left:589.8px;top:337.1px"></div>
<div class="c ix" style="left:589.2px;top:348.9px;width:18.6px;height:20.4px;"><span>016</span></div>
<div class="t" style="left:589.8px;top:349.2px"></div>
<div class="c ix sh" style="left:589.2px;top:369.3px;width:18.6px;height:10.4px;margin-top:-1px;"><span>017</span></div>
<div class="t" style="left:589.8px;top:369.6px"></div>
<div class="c ix sh" style="left:589.2px;top:379.7px;width:18.6px;height:12.1px;margin-top:-1px;"><span>018</span></div>
<div class="t" style="left:589.8px;top:380.0px"></div>
<div class="c ix sh" style="left:589.2px;top:391.8px;width:18.6px;height:10.2px;"><span>019</span></div>
<div class="t" style="left:589.8px;top:392.1px"></div>
<div class="c ix sh" style="left:589.2px;top:402.0px;width:18.6px;height:10.3px;"><span>020</span></div>
<div class="t" style="left:589.8px;top:402.3px"></div>
<div class="c ix" style="left:589.2px;top:412.3px;width:18.6px;height:20.2px;"><span>021</span></div>
<div class="t" style="left:589.8px;top:412.6px"></div>
<div class="c ix" style="left:589.2px;top:432.5px;width:18.6px;height:20.6px;margin-top:1px;"><span>022</span></div>
<div class="t" style="left:589.8px;top:432.8px"></div>
<div class="c ix sh" style="left:589.2px;top:453.1px;width:18.6px;height:12.0px;"><span>023</span></div>
<div class="t" style="left:589.8px;top:453.4px"></div>
<div class="c ix sh" style="left:589.2px;top:465.1px;width:18.6px;height:12.1px;"><span>024</span></div>
<div class="t" style="left:589.8px;top:465.4px"></div>
<div class="c ix" style="left:589.2px;top:477.2px;width:18.6px;height:20.3px;"><span>025</span></div>
<div class="t" style="left:589.8px;top:477.5px"></div>
<div class="c ix sh" style="left:589.2px;top:497.5px;width:18.6px;height:12.2px;margin-top:-1px;"><span>026</span></div>
<div class="t" style="left:589.8px;top:497.8px"></div>
<div class="c ix sh" style="left:589.2px;top:509.7px;width:18.6px;height:12.1px;margin-top:-1px;"><span>027</span></div>
<div class="t" style="left:589.8px;top:510.0px"></div>
<div class="c ix sh" style="left:589.2px;top:521.8px;width:18.6px;height:10.2px;margin-top:-1px;"><span>028</span></div>
<div class="t" style="left:589.8px;top:522.1px"></div>
<div class="c ix sh" style="left:589.2px;top:532.0px;width:18.6px;height:9.9px;"><span>029</span></div>
<div class="t" style="left:589.8px;top:532.3px"></div>
<div class="c ix" style="left:777.5px;top:60.3px;width:19.2px;height:20.5px;"><span>000</span></div>
<div class="t" style="left:778.1px;top:60.6px"></div>
<div class="c ix" style="left:777.5px;top:80.8px;width:19.2px;height:20.5px;"><span>001</span></div>
<div class="t" style="left:778.1px;top:81.1px"></div>
<div class="c ix" style="left:777.5px;top:101.3px;width:19.2px;height:20.5px;"><span>002</span></div>
<div class="t" style="left:778.1px;top:101.6px"></div>
<div class="c ix" style="left:777.5px;top:121.8px;width:19.2px;height:20.5px;"><span>003</span></div>
<div class="t" style="left:778.1px;top:122.1px"></div>
<div class="c ix sh" style="left:777.5px;top:142.3px;width:19.2px;height:10.2px;margin-top:-1px;"><span>004</span></div>
<div class="t" style="left:778.1px;top:142.6px"></div>
<div class="c ix" style="left:777.5px;top:152.5px;width:19.2px;height:20.4px;"><span>005</span></div>
<div class="t" style="left:778.1px;top:152.8px"></div>
<div class="c ix" style="left:777.5px;top:172.9px;width:19.2px;height:24.7px;"><span>006</span></div>
<div class="t" style="left:778.1px;top:173.2px"></div>
<div class="c ix sh" style="left:777.5px;top:197.6px;width:19.2px;height:11.3px;"><span>007</span></div>
<div class="t" style="left:778.1px;top:197.9px"></div>
<div class="c ix" style="left:777.5px;top:208.9px;width:19.2px;height:20.5px;"><span>008</span></div>
<div class="t" style="left:778.1px;top:209.2px"></div>
<div class="c ix" style="left:777.5px;top:229.4px;width:19.2px;height:20.3px;"><span>009</span></div>
<div class="t" style="left:778.1px;top:229.7px"></div>
<div class="c ix sh" style="left:777.5px;top:249.7px;width:19.2px;height:12.0px;"><span>010</span></div>
<div class="t" style="left:778.1px;top:250.0px"></div>
<div class="c ix sh" style="left:777.5px;top:261.7px;width:19.2px;height:10.4px;"><span>011</span></div>
<div class="t" style="left:778.1px;top:262.0px"></div>
<div class="c ix" style="left:777.5px;top:272.1px;width:19.2px;height:20.4px;"><span>012</span></div>
<div class="t" style="left:778.1px;top:272.4px"></div>
<div class="c ix" style="left:777.5px;top:292.5px;width:19.2px;height:24.2px;"><span>013</span></div>
<div class="t" style="left:778.1px;top:292.8px"></div>
<div class="c ix" style="left:777.5px;top:316.7px;width:19.2px;height:20.1px;"><span>014</span></div>
<div class="t" style="left:778.1px;top:317.0px"></div>
<div class="c ix sh" style="left:777.5px;top:336.8px;width:19.2px;height:12.1px;"><span>015</span></div>
<div class="t" style="left:778.1px;top:337.1px"></div>
<div class="c ix" style="left:777.5px;top:348.9px;width:19.2px;height:20.4px;"><span>016</span></div>
<div class="t" style="left:778.1px;top:349.2px"></div>
<div class="c ix sh" style="left:777.5px;top:369.3px;width:19.2px;height:10.4px;margin-top:-1px;"><span>017</span></div>
<div class="t" style="left:778.1px;top:369.6px"></div>
<div class="c ix sh" style="left:777.5px;top:379.7px;width:19.2px;height:12.1px;margin-top:-1px;"><span>018</span></div>
<div class="t" style="left:778.1px;top:380.0px"></div>
<div class="c ix sh" style="left:777.5px;top:391.8px;width:19.2px;height:10.2px;"><span>019</span></div>
<div class="t" style="left:778.1px;top:392.1px"></div>
<div class="c ix sh" style="left:777.5px;top:402.0px;width:19.2px;height:10.3px;"><span>020</span></div>
<div class="t" style="left:778.1px;top:402.3px"></div>
<div class="c ix" style="left:777.5px;top:412.3px;width:19.2px;height:20.2px;"><span>021</span></div>
<div class="t" style="left:778.1px;top:412.6px"></div>
<div class="c ix" style="left:777.5px;top:432.5px;width:19.2px;height:20.6px;margin-top:1px;"><span>022</span></div>
<div class="t" style="left:778.1px;top:432.8px"></div>
<div class="c ix sh" style="left:777.5px;top:453.1px;width:19.2px;height:12.0px;"><span>023</span></div>
<div class="t" style="left:778.1px;top:453.4px"></div>
<div class="c ix sh" style="left:777.5px;top:465.1px;width:19.2px;height:12.1px;"><span>024</span></div>
<div class="t" style="left:778.1px;top:465.4px"></div>
<div class="c ix" style="left:777.5px;top:477.2px;width:19.2px;height:20.3px;"><span>025</span></div>
<div class="t" style="left:778.1px;top:477.5px"></div>
<div class="c ix sh" style="left:777.5px;top:497.5px;width:19.2px;height:12.2px;margin-top:-1px;"><span>026</span></div>
<div class="t" style="left:778.1px;top:497.8px"></div>
<div class="c ix sh" style="left:777.5px;top:509.7px;width:19.2px;height:12.1px;margin-top:-1px;"><span>027</span></div>
<div class="t" style="left:778.1px;top:510.0px"></div>
<div class="c ix sh" style="left:777.5px;top:521.8px;width:19.2px;height:10.2px;margin-top:-1px;"><span>028</span></div>
<div class="t" style="left:778.1px;top:522.1px"></div>
<div class="c ix sh" style="left:777.5px;top:532.0px;width:19.2px;height:9.9px;"><span>029</span></div>
<div class="t" style="left:778.1px;top:532.3px"></div>
<div class="c ix" style="left:937.2px;top:60.3px;width:19.1px;height:20.5px;"><span>000</span></div>
<div class="t" style="left:937.8px;top:60.6px"></div>
<div class="c ix" style="left:937.2px;top:80.8px;width:19.1px;height:20.5px;"><span>001</span></div>
<div class="t" style="left:937.8px;top:81.1px"></div>
<div class="c ix" style="left:937.2px;top:101.3px;width:19.1px;height:20.5px;"><span>002</span></div>
<div class="t" style="left:937.8px;top:101.6px"></div>
<div class="c ix" style="left:937.2px;top:121.8px;width:19.1px;height:20.5px;"><span>003</span></div>
<div class="t" style="left:937.8px;top:122.1px"></div>
<div class="c ix sh" style="left:937.2px;top:142.3px;width:19.1px;height:10.2px;margin-top:-1px;"><span>004</span></div>
<div class="t" style="left:937.8px;top:142.6px"></div>
<div class="c ix" style="left:937.2px;top:152.5px;width:19.1px;height:20.4px;"><span>005</span></div>
<div class="t" style="left:937.8px;top:152.8px"></div>
<div class="c ix" style="left:937.2px;top:172.9px;width:19.1px;height:24.7px;"><span>006</span></div>
<div class="t" style="left:937.8px;top:173.2px"></div>
<div class="c ix sh" style="left:937.2px;top:197.6px;width:19.1px;height:11.3px;"><span>007</span></div>
<div class="t" style="left:937.8px;top:197.9px"></div>
<div class="c ix" style="left:937.2px;top:208.9px;width:19.1px;height:20.5px;"><span>008</span></div>
<div class="t" style="left:937.8px;top:209.2px"></div>
<div class="c ix" style="left:937.2px;top:229.4px;width:19.1px;height:20.3px;"><span>009</span></div>
<div class="t" style="left:937.8px;top:229.7px"></div>
<div class="c ix sh" style="left:937.2px;top:249.7px;width:19.1px;height:12.0px;"><span>010</span></div>
<div class="t" style="left:937.8px;top:250.0px"></div>
<div class="c ix sh" style="left:937.2px;top:261.7px;width:19.1px;height:10.4px;"><span>011</span></div>
<div class="t" style="left:937.8px;top:262.0px"></div>
<div class="c ix" style="left:937.2px;top:272.1px;width:19.1px;height:20.4px;"><span>012</span></div>
<div class="t" style="left:937.8px;top:272.4px"></div>
<div class="c ix" style="left:937.2px;top:292.5px;width:19.1px;height:24.2px;"><span>013</span></div>
<div class="t" style="left:937.8px;top:292.8px"></div>
<div class="c ix" style="left:937.2px;top:316.7px;width:19.1px;height:20.1px;"><span>014</span></div>
<div class="t" style="left:937.8px;top:317.0px"></div>
<div class="c ix sh" style="left:937.2px;top:336.8px;width:19.1px;height:12.1px;"><span>015</span></div>
<div class="t" style="left:937.8px;top:337.1px"></div>
<div class="c ix" style="left:937.2px;top:348.9px;width:19.1px;height:20.4px;"><span>016</span></div>
<div class="t" style="left:937.8px;top:349.2px"></div>
<div class="c ix sh" style="left:937.2px;top:369.3px;width:19.1px;height:10.4px;margin-top:-1px;"><span>017</span></div>
<div class="t" style="left:937.8px;top:369.6px"></div>
<div class="c ix sh" style="left:937.2px;top:379.7px;width:19.1px;height:12.1px;margin-top:-1px;"><span>018</span></div>
<div class="t" style="left:937.8px;top:380.0px"></div>
<div class="c ix sh" style="left:937.2px;top:391.8px;width:19.1px;height:10.2px;"><span>019</span></div>
<div class="t" style="left:937.8px;top:392.1px"></div>
<div class="c ix sh" style="left:937.2px;top:402.0px;width:19.1px;height:10.3px;"><span>020</span></div>
<div class="t" style="left:937.8px;top:402.3px"></div>
<div class="c ix" style="left:937.2px;top:412.3px;width:19.1px;height:20.2px;"><span>021</span></div>
<div class="t" style="left:937.8px;top:412.6px"></div>
<div class="c ix" style="left:937.2px;top:432.5px;width:19.1px;height:20.6px;margin-top:1px;"><span>022</span></div>
<div class="t" style="left:937.8px;top:432.8px"></div>
<div class="c ix sh" style="left:937.2px;top:453.1px;width:19.1px;height:12.0px;"><span>023</span></div>
<div class="t" style="left:937.8px;top:453.4px"></div>
<div class="c ix sh" style="left:937.2px;top:465.1px;width:19.1px;height:12.1px;"><span>024</span></div>
<div class="t" style="left:937.8px;top:465.4px"></div>
<div class="c ix" style="left:937.2px;top:477.2px;width:19.1px;height:20.3px;"><span>025</span></div>
<div class="t" style="left:937.8px;top:477.5px"></div>
<div class="c ix sh" style="left:937.2px;top:497.5px;width:19.1px;height:12.2px;margin-top:-1px;"><span>026</span></div>
<div class="t" style="left:937.8px;top:497.8px"></div>
<div class="c ix sh" style="left:937.2px;top:509.7px;width:19.1px;height:12.1px;margin-top:-1px;"><span>027</span></div>
<div class="t" style="left:937.8px;top:510.0px"></div>
<div class="c ix sh" style="left:937.2px;top:521.8px;width:19.1px;height:10.2px;margin-top:-1px;"><span>028</span></div>
<div class="t" style="left:937.8px;top:522.1px"></div>
<div class="c ix sh" style="left:937.2px;top:532.0px;width:19.1px;height:9.9px;"><span>029</span></div>
<div class="t" style="left:937.8px;top:532.3px"></div>
<div class="c ix" style="left:1048.3px;top:60.3px;width:19.2px;height:20.5px;"><span>000</span></div>
<div class="t" style="left:1048.9px;top:60.6px"></div>
<div class="c ix" style="left:1048.3px;top:80.8px;width:19.2px;height:20.5px;"><span>001</span></div>
<div class="t" style="left:1048.9px;top:81.1px"></div>
<div class="c ix" style="left:1048.3px;top:101.3px;width:19.2px;height:20.5px;"><span>002</span></div>
<div class="t" style="left:1048.9px;top:101.6px"></div>
<div class="c ix" style="left:1048.3px;top:121.8px;width:19.2px;height:20.5px;"><span>003</span></div>
<div class="t" style="left:1048.9px;top:122.1px"></div>
<div class="c ix sh" style="left:1048.3px;top:142.3px;width:19.2px;height:10.2px;margin-top:-1px;"><span>004</span></div>
<div class="t" style="left:1048.9px;top:142.6px"></div>
<div class="c ix" style="left:1048.3px;top:152.5px;width:19.2px;height:20.4px;"><span>005</span></div>
<div class="t" style="left:1048.9px;top:152.8px"></div>
<div class="c ix" style="left:1048.3px;top:172.9px;width:19.2px;height:24.7px;"><span>006</span></div>
<div class="t" style="left:1048.9px;top:173.2px"></div>
<div class="c ix sh" style="left:1048.3px;top:197.6px;width:19.2px;height:11.3px;"><span>007</span></div>
<div class="t" style="left:1048.9px;top:197.9px"></div>
<div class="c ix" style="left:1048.3px;top:208.9px;width:19.2px;height:20.5px;"><span>008</span></div>
<div class="t" style="left:1048.9px;top:209.2px"></div>
<div class="c ix" style="left:1048.3px;top:229.4px;width:19.2px;height:20.3px;"><span>009</span></div>
<div class="t" style="left:1048.9px;top:229.7px"></div>
<div class="c ix sh" style="left:1048.3px;top:249.7px;width:19.2px;height:12.0px;"><span>010</span></div>
<div class="t" style="left:1048.9px;top:250.0px"></div>
<div class="c ix sh" style="left:1048.3px;top:261.7px;width:19.2px;height:10.4px;"><span>011</span></div>
<div class="t" style="left:1048.9px;top:262.0px"></div>
<div class="c ix" style="left:1048.3px;top:272.1px;width:19.2px;height:20.4px;"><span>012</span></div>
<div class="t" style="left:1048.9px;top:272.4px"></div>
<div class="c ix" style="left:1048.3px;top:292.5px;width:19.2px;height:24.2px;"><span>013</span></div>
<div class="t" style="left:1048.9px;top:292.8px"></div>
<div class="c ix" style="left:1048.3px;top:316.7px;width:19.2px;height:20.1px;"><span>014</span></div>
<div class="t" style="left:1048.9px;top:317.0px"></div>
<div class="c ix sh" style="left:1048.3px;top:336.8px;width:19.2px;height:12.1px;"><span>015</span></div>
<div class="t" style="left:1048.9px;top:337.1px"></div>
<div class="c ix" style="left:1048.3px;top:348.9px;width:19.2px;height:20.4px;"><span>016</span></div>
<div class="t" style="left:1048.9px;top:349.2px"></div>
<div class="c ix sh" style="left:1048.3px;top:369.3px;width:19.2px;height:10.4px;margin-top:-1px;"><span>017</span></div>
<div class="t" style="left:1048.9px;top:369.6px"></div>
<div class="c ix sh" style="left:1048.3px;top:379.7px;width:19.2px;height:12.1px;margin-top:-1px;"><span>018</span></div>
<div class="t" style="left:1048.9px;top:380.0px"></div>
<div class="c ix sh" style="left:1048.3px;top:391.8px;width:19.2px;height:10.2px;"><span>019</span></div>
<div class="t" style="left:1048.9px;top:392.1px"></div>
<div class="c ix sh" style="left:1048.3px;top:402.0px;width:19.2px;height:10.3px;"><span>020</span></div>
<div class="t" style="left:1048.9px;top:402.3px"></div>
<div class="c ix" style="left:1048.3px;top:412.3px;width:19.2px;height:20.2px;"><span>021</span></div>
<div class="t" style="left:1048.9px;top:412.6px"></div>
<div class="c ix" style="left:1048.3px;top:432.5px;width:19.2px;height:20.6px;margin-top:1px;"><span>022</span></div>
<div class="t" style="left:1048.9px;top:432.8px"></div>
<div class="c ix sh" style="left:1048.3px;top:453.1px;width:19.2px;height:12.0px;"><span>023</span></div>
<div class="t" style="left:1048.9px;top:453.4px"></div>
<div class="c ix sh" style="left:1048.3px;top:465.1px;width:19.2px;height:12.1px;"><span>024</span></div>
<div class="t" style="left:1048.9px;top:465.4px"></div>
<div class="c ix" style="left:1048.3px;top:477.2px;width:19.2px;height:20.3px;"><span>025</span></div>
<div class="t" style="left:1048.9px;top:477.5px"></div>
<div class="c ix sh" style="left:1048.3px;top:497.5px;width:19.2px;height:12.2px;margin-top:-1px;"><span>026</span></div>
<div class="t" style="left:1048.9px;top:497.8px"></div>
<div class="c ix sh" style="left:1048.3px;top:509.7px;width:19.2px;height:12.1px;margin-top:-1px;"><span>027</span></div>
<div class="t" style="left:1048.9px;top:510.0px"></div>
<div class="c ix sh" style="left:1048.3px;top:521.8px;width:19.2px;height:10.2px;margin-top:-1px;"><span>028</span></div>
<div class="t" style="left:1048.9px;top:522.1px"></div>
<div class="c ix sh" style="left:1048.3px;top:532.0px;width:19.2px;height:9.9px;"><span>029</span></div>
<div class="t" style="left:1048.9px;top:532.3px"></div>
<div class="c a red" style="left:0.0px;top:60.3px;width:40.0px;height:20.5px;font-size:8.6px;padding-right:4px;"><span>unlikely</span></div>
<div class="c a" style="left:0.0px;top:101.3px;width:40.0px;height:20.5px;"><span>block<br>1/5/10</span></div>
<div class="c a teal sh" style="left:0.0px;top:142.3px;width:40.0px;height:10.2px;margin-top:-1px;"><span>Block 15</span></div>
<div class="c d  " style="left:59.2px;top:60.3px;width:91.1px;height:20.5px;"><span>79-0315 l83-w/o apr 84</span></div>
<div class="c d  " style="left:59.2px;top:80.8px;width:91.1px;height:20.5px;"><span>79-0323 l83- w/o feb 85</span></div>
<div class="c d  " style="left:59.2px;top:101.3px;width:91.1px;height:20.5px;"><span>79-0289 l83-l92</span></div>
<div class="c d  " style="left:59.2px;top:121.8px;width:91.1px;height:20.5px;"><span>79-0290 l83-l92</span></div>
<div class="c d   sh" style="left:59.2px;top:142.3px;width:91.1px;height:10.2px;margin-top:-1px;"><span>79-0296 l83-l92</span></div>
<div class="c d  " style="left:59.2px;top:152.5px;width:91.1px;height:20.4px;"><span>79-0288&nbsp; l83-l94</span></div>
<div class="c d  " style="left:59.2px;top:172.9px;width:91.1px;height:24.7px;"><span>79-0291 l83-l94</span></div>
<div class="c d   sh" style="left:59.2px;top:197.6px;width:91.1px;height:11.3px;"><span>79-0292 l83-l94</span></div>
<div class="c d  " style="left:59.2px;top:208.9px;width:91.1px;height:20.5px;"><span>79-0293 l83-l94</span></div>
<div class="c d  " style="left:59.2px;top:229.4px;width:91.1px;height:20.3px;"><span>79-0294 l83-e94</span></div>
<div class="c d   sh" style="left:59.2px;top:249.7px;width:91.1px;height:12.0px;"><span>79-0295 l83-l94</span></div>
<div class="c d   sh" style="left:59.2px;top:261.7px;width:91.1px;height:10.4px;"><span>79-0299 l83-l94</span></div>
<div class="c d  " style="left:59.2px;top:272.1px;width:91.1px;height:20.4px;"><span>79-0302 l83-l94</span></div>
<div class="c d  " style="left:59.2px;top:292.5px;width:91.1px;height:24.2px;"><span>79-0304 l83-l94</span></div>
<div class="c d  " style="left:59.2px;top:316.7px;width:91.1px;height:20.1px;"><span>79-0306 l83-e94</span></div>
<div class="c d   sh" style="left:59.2px;top:336.8px;width:91.1px;height:12.1px;"><span>79-0308 l83-e94</span></div>
<div class="c d  " style="left:59.2px;top:348.9px;width:91.1px;height:20.4px;"><span>79-0314 l83-e94</span></div>
<div class="c d   sh" style="left:59.2px;top:369.3px;width:91.1px;height:10.4px;margin-top:-1px;"><span>79-0317 l83-e94</span></div>
<div class="c d   sh" style="left:59.2px;top:379.7px;width:91.1px;height:12.1px;margin-top:-1px;"><span>79-0319 l83-l94</span></div>
<div class="c d   sh" style="left:59.2px;top:391.8px;width:91.1px;height:10.2px;"><span>79-0320 l83-l94</span></div>
<div class="c d   sh" style="left:59.2px;top:402.0px;width:91.1px;height:10.3px;"><span>79-0321 169TFG l83-l94</span></div>
<div class="c d  " style="left:59.2px;top:412.3px;width:91.1px;height:20.2px;"><span>79-0322 l83-e94</span></div>
<div class="c d  " style="left:59.2px;top:432.5px;width:91.1px;height:20.6px;margin-top:1px;"><span>79-0325 l83-l94</span></div>
<div class="c d   sh" style="left:59.2px;top:453.1px;width:91.1px;height:12.0px;"><span>79-0297 l84-94</span></div>
<div class="c d   sh" style="left:59.2px;top:465.1px;width:91.1px;height:12.1px;"><span>79-0305 157TFS l85-e94</span></div>
<div class="c d  " style="left:59.2px;top:477.2px;width:91.1px;height:20.3px;"><span>79-0312 l86-e94</span></div>
<div class="c d   sh" style="left:59.2px;top:497.5px;width:91.1px;height:12.2px;margin-top:-1px;"><span>78-0018 e87-m90</span></div>
<div class="c d   sh" style="left:59.2px;top:509.7px;width:91.1px;height:12.1px;margin-top:-1px;"><span>80-0484 l89-m91</span></div>
<div class="c d   sh" style="left:59.2px;top:521.8px;width:91.1px;height:10.2px;margin-top:-1px;"><span>80-0532 m91-l94</span></div>
<div class="c d  g" style="left:150.3px;top:60.3px;width:72.5px;height:20.5px;"><span>79-0341 l88-m90</span></div>
<div class="c d  " style="left:150.3px;top:80.8px;width:72.5px;height:20.5px;"><span>78-0042 m88-m94<br>187TFG na</span></div>
<div class="c d  " style="left:150.3px;top:101.3px;width:72.5px;height:20.5px;"><span>78-0061 l88-m94</span></div>
<div class="c d  " style="left:150.3px;top:121.8px;width:72.5px;height:20.5px;"><span>79-0336 l88-m93</span></div>
<div class="c d   sh" style="left:150.3px;top:142.3px;width:72.5px;height:10.2px;margin-top:-1px;"><span>79-0353 l88-m93</span></div>
<div class="c d  " style="left:150.3px;top:152.5px;width:72.5px;height:20.4px;"><span>79-0355 l88-m93</span></div>
<div class="c d  " style="left:150.3px;top:172.9px;width:72.5px;height:24.7px;"><span>79-0363 l88-l93</span></div>
<div class="c d   sh" style="left:150.3px;top:197.6px;width:72.5px;height:11.3px;"><span>79-0395 l88-m93</span></div>
<div class="c d  " style="left:150.3px;top:208.9px;width:72.5px;height:20.5px;"><span>79-0396 l88-m93</span></div>
<div class="c d  " style="left:150.3px;top:229.4px;width:72.5px;height:20.3px;"><span>79-0405 m88-m93</span></div>
<div class="c d   sh" style="left:150.3px;top:249.7px;width:72.5px;height:12.0px;"><span>80-0496 l88-m93</span></div>
<div class="c d   sh" style="left:150.3px;top:261.7px;width:72.5px;height:10.4px;"><span>80-0510 l88-m93</span></div>
<div class="c d  " style="left:150.3px;top:272.1px;width:72.5px;height:20.4px;"><span>80-0512 l88-m93</span></div>
<div class="c d  " style="left:150.3px;top:292.5px;width:72.5px;height:24.2px;"><span>80-0521 l88-m93</span></div>
<div class="c d  " style="left:150.3px;top:316.7px;width:72.5px;height:20.1px;"><span>80-0525 l88 loan to<br>138th in ODS</span></div>
<div class="c d   sh" style="left:150.3px;top:336.8px;width:72.5px;height:12.1px;"><span>80-0529 l88-m93</span></div>
<div class="c d  " style="left:150.3px;top:348.9px;width:72.5px;height:20.4px;"><span>80-0530 l88-m93</span></div>
<div class="c d   sh" style="left:150.3px;top:369.3px;width:72.5px;height:10.4px;margin-top:-1px;"><span>80-0531 l88-l93</span></div>
<div class="c d   sh" style="left:150.3px;top:379.7px;width:72.5px;height:12.1px;margin-top:-1px;"><span>80-0527 e89-e92</span></div>
<div class="c d   sh" style="left:150.3px;top:391.8px;width:72.5px;height:10.2px;"><span>79-0331 m92-m93</span></div>
<div class="c d  " style="left:241.7px;top:60.3px;width:74.6px;height:20.5px;"><span>78-0001 m90-l91</span></div>
<div class="c d  " style="left:241.7px;top:80.8px;width:74.6px;height:20.5px;"><span>79-0379&nbsp; m90-w/o<br>apr93</span></div>
<div class="c d  " style="left:241.7px;top:101.3px;width:74.6px;height:20.5px;"><span>78-0003 m90-m94</span></div>
<div class="c d  " style="left:241.7px;top:121.8px;width:74.6px;height:20.5px;"><span>78-0011 m90-e94</span></div>
<div class="c d   sh" style="left:241.7px;top:142.3px;width:74.6px;height:10.2px;margin-top:-1px;"><span>78-0014 m90-e94</span></div>
<div class="c d  " style="left:241.7px;top:152.5px;width:74.6px;height:20.4px;"><span>78-0018 m90-e94</span></div>
<div class="c d  " style="left:241.7px;top:172.9px;width:74.6px;height:24.7px;"><span>78-0049 e91-e94</span></div>
<div class="c d   sh" style="left:241.7px;top:197.6px;width:74.6px;height:11.3px;"><span>78-0058 m90-l94</span></div>
<div class="c d  i" style="left:241.7px;top:208.9px;width:74.6px;height:20.5px;"><span>79-0333 m90-l94</span></div>
<div class="c d  " style="left:241.7px;top:229.4px;width:74.6px;height:20.3px;"><span>79-0342 m90-e94 na</span></div>
<div class="c d   sh" style="left:241.7px;top:249.7px;width:74.6px;height:12.0px;"><span>79-0347 e90-m94</span></div>
<div class="c d  i sh" style="left:241.7px;top:261.7px;width:74.6px;height:10.4px;"><span>79-0360 m90-m94</span></div>
<div class="c d  " style="left:241.7px;top:272.1px;width:74.6px;height:20.4px;"><span>79-0361 m90-m94</span></div>
<div class="c d  " style="left:241.7px;top:292.5px;width:74.6px;height:24.2px;"><span>79-0369 m90-e94 na</span></div>
<div class="c d  " style="left:241.7px;top:316.7px;width:74.6px;height:20.1px;"><span>79-0387 m92?-94 na</span></div>
<div class="c d   sh" style="left:241.7px;top:336.8px;width:74.6px;height:12.1px;"><span>80-0485 m90-m94</span></div>
<div class="c d  g" style="left:241.7px;top:348.9px;width:74.6px;height:20.4px;"><span>80-0501 m90-e94</span></div>
<div class="c d  g sh" style="left:241.7px;top:369.3px;width:74.6px;height:10.4px;margin-top:-1px;"><span>80-0503 m90-m94</span></div>
<div class="c d   sh" style="left:241.7px;top:379.7px;width:74.6px;height:12.1px;margin-top:-1px;"><span>80-0505 e90-m94</span></div>
<div class="c d   sh" style="left:241.7px;top:391.8px;width:74.6px;height:10.2px;"><span>78-0026 e91-e92</span></div>
<div class="c d   sh" style="left:241.7px;top:402.0px;width:74.6px;height:10.3px;"><span>78-0059 e91-l94</span></div>
<div class="c d  " style="left:241.7px;top:412.3px;width:74.6px;height:20.2px;"><span>79-0307 127FW e91-<br>m93</span></div>
<div class="c d  " style="left:241.7px;top:432.5px;width:74.6px;height:20.6px;margin-top:1px;"><span>80-0495 m92-wo<br>apr93</span></div>
<div class="c d   sh" style="left:241.7px;top:453.1px;width:74.6px;height:12.0px;"><span>80-0494 m92-e94 na</span></div>
<div class="c d   sh" style="left:241.7px;top:465.1px;width:74.6px;height:12.1px;"><span>78-0020 m92-m94</span></div>
<div class="c d  " style="left:241.7px;top:477.2px;width:74.6px;height:20.3px;"><span>79-0328 m92-m94</span></div>
<div class="c d   sh" style="left:241.7px;top:497.5px;width:74.6px;height:12.2px;margin-top:-1px;"><span>78-0017 m93-m94</span></div>
<div class="c d  " style="left:316.3px;top:60.3px;width:86.7px;height:20.5px;"><span>80-0537 may90-apr93</span></div>
<div class="c d  " style="left:316.3px;top:80.8px;width:86.7px;height:20.5px;"><span>80-0500 may90-jul93</span></div>
<div class="c d  " style="left:316.3px;top:101.3px;width:86.7px;height:20.5px;"><span>80-0516 oct89-mar94</span></div>
<div class="c d  " style="left:316.3px;top:121.8px;width:86.7px;height:20.5px;"><span>80-0520 sep 89-feb94<br>113TFW</span></div>
<div class="c d   sh" style="left:316.3px;top:142.3px;width:86.7px;height:10.2px;margin-top:-1px;"><span>80-0534 oct89-m94</span></div>
<div class="c d  " style="left:316.3px;top:152.5px;width:86.7px;height:20.4px;"><span>78-0062 jan90-ma94</span></div>
<div class="c d  " style="left:316.3px;top:172.9px;width:86.7px;height:24.7px;"><span>79-0326 121tfs jan90-<br>may94</span></div>
<div class="c d   sh" style="left:316.3px;top:197.6px;width:86.7px;height:11.3px;"><span>80-0481 jan90-may94</span></div>
<div class="c d  " style="left:316.3px;top:208.9px;width:86.7px;height:20.5px;"><span>80-0511 jan90-m94</span></div>
<div class="c d  " style="left:316.3px;top:229.4px;width:86.7px;height:20.3px;"><span>79-0334 may90-may94</span></div>
<div class="c d   sh" style="left:316.3px;top:249.7px;width:86.7px;height:12.0px;"><span>79-0339 may90-mar94</span></div>
<div class="c d   sh" style="left:316.3px;top:261.7px;width:86.7px;height:10.4px;"><span>79-0344 may90-ma94</span></div>
<div class="c d  " style="left:316.3px;top:272.1px;width:86.7px;height:20.4px;"><span>79-0346 may90-mar94<br>121FS</span></div>
<div class="c d  " style="left:316.3px;top:292.5px;width:86.7px;height:24.2px;"><span>79-0356&nbsp; may90-mar94</span></div>
<div class="c d  " style="left:316.3px;top:316.7px;width:86.7px;height:20.1px;"><span>80-0491 may 90-mar94</span></div>
<div class="c d   sh" style="left:316.3px;top:336.8px;width:86.7px;height:12.1px;"><span>80-0522 may90-may94</span></div>
<div class="c d  " style="left:316.3px;top:348.9px;width:86.7px;height:20.4px;"><span>80-0526 may90-mid94</span></div>
<div class="c d   sh" style="left:316.3px;top:369.3px;width:86.7px;height:10.4px;margin-top:-1px;"><span>79-0330 may91-jun93</span></div>
<div class="c d   sh" style="left:316.3px;top:379.7px;width:86.7px;height:12.1px;margin-top:-1px;"><span>78-0012 jun91-mar94</span></div>
<div class="c d   sh" style="left:316.3px;top:391.8px;width:86.7px;height:10.2px;"><span>78-0010 oct91-mar94</span></div>
<div class="c d   sh" style="left:316.3px;top:402.0px;width:86.7px;height:10.3px;"><span>79-0332 e92-m94</span></div>
<div class="c d  " style="left:316.3px;top:412.3px;width:86.7px;height:20.2px;"><span>79-0371 e92-mar94</span></div>
<div class="c d  " style="left:316.3px;top:432.5px;width:86.7px;height:20.6px;margin-top:1px;"><span>80-0484 may91-<br>nov91w/o</span></div>
<div class="c d  " style="left:421.7px;top:60.3px;width:86.6px;height:20.5px;"><span>78-0008 m89-e91</span></div>
<div class="c d  " style="left:421.7px;top:80.8px;width:86.6px;height:20.5px;"><span>78-0009 m87-w/o91</span></div>
<div class="c d  " style="left:421.7px;top:101.3px;width:86.6px;height:20.5px;"><span>78-0010 l87-l91 <span class="or sm2">161TFTS</span></span></div>
<div class="c d  i" style="left:421.7px;top:121.8px;width:86.6px;height:20.5px;"><span>78-0011 m87-m90</span></div>
<div class="c d   sh" style="left:421.7px;top:142.3px;width:86.6px;height:10.2px;margin-top:-1px;"><span>78-0017 l87-e93</span></div>
<div class="c d  " style="left:421.7px;top:152.5px;width:86.6px;height:20.4px;"><span>78-0059 l87-e91 na</span></div>
<div class="c d  " style="left:421.7px;top:172.9px;width:86.6px;height:24.7px;"><span>79-0332 e87-e92 na</span></div>
<div class="c d   sh" style="left:421.7px;top:197.6px;width:86.6px;height:11.3px;"><span>79-0340 e-87-l90</span></div>
<div class="c d  " style="left:421.7px;top:208.9px;width:86.6px;height:20.5px;"><span>78-0358 l89-l91 na</span></div>
<div class="c d  " style="left:421.7px;top:229.4px;width:86.6px;height:20.3px;"><span>79-0362 e89-e91</span></div>
<div class="c d   sh" style="left:421.7px;top:249.7px;width:86.6px;height:12.0px;"><span>79-0364 l88-m91</span></div>
<div class="c d   sh" style="left:421.7px;top:261.7px;width:86.6px;height:10.4px;"><span>79-0369 l87-e92</span></div>
<div class="c d  " style="left:421.7px;top:272.1px;width:86.6px;height:20.4px;"><span>79-0370 l89-e92 na</span></div>
<div class="c d  big" style="left:421.7px;top:292.5px;width:86.6px;height:24.2px;"><span>79-0371 m87-e92<br>184TFG</span></div>
<div class="c d  " style="left:421.7px;top:316.7px;width:86.6px;height:20.1px;"><span>79-0375 l89-l91</span></div>
<div class="c d  big sh" style="left:421.7px;top:336.8px;width:86.6px;height:12.1px;"><span>79-0387 m88-m92 na</span></div>
<div class="c d  big" style="left:421.7px;top:348.9px;width:86.6px;height:20.4px;"><span>80-0494 l89-m92</span></div>
<div class="c d   sh" style="left:421.7px;top:369.3px;width:86.6px;height:10.4px;margin-top:-1px;"><span>80-0495 l88-m92</span></div>
<div class="c d   sh" style="left:421.7px;top:379.7px;width:86.6px;height:12.1px;margin-top:-1px;"><span>80-0504 l87-l90</span></div>
<div class="c d   sh" style="left:421.7px;top:391.8px;width:86.6px;height:10.2px;"><span>79-0387 m88-m92 na</span></div>
<div class="c d   sh" style="left:421.7px;top:402.0px;width:86.6px;height:10.3px;"><span>79-0389 l89-l91</span></div>
<div class="c d  " style="left:421.7px;top:412.3px;width:86.6px;height:20.2px;"><span>79-0398 l88-w/o jun89</span></div>
<div class="c d  " style="left:421.7px;top:432.5px;width:86.6px;height:20.6px;margin-top:1px;"><span>80-0492 l89-l91</span></div>
<div class="c d  i sh" style="left:421.7px;top:453.1px;width:86.6px;height:12.0px;"><span>80-0499 l89-e91</span></div>
<div class="c d  i sh" style="left:421.7px;top:465.1px;width:86.6px;height:12.1px;"><span>80-0528 m88-l91</span></div>
<div class="c d  " style="left:421.7px;top:477.2px;width:86.6px;height:20.3px;"><span>80-0536 l89-jan 91w/o</span></div>
<div class="c d  i sh" style="left:421.7px;top:497.5px;width:86.6px;height:12.2px;margin-top:-1px;"><span>80-0488 m90-m92</span></div>
<div class="c d  " style="left:508.3px;top:60.3px;width:80.9px;height:20.5px;"><span>79-0391 e89-w/o ODS</span></div>
<div class="c d  " style="left:508.3px;top:80.8px;width:80.9px;height:20.5px;"><span>79-0400 l89-w/o ODS</span></div>
<div class="c d  i" style="left:508.3px;top:101.3px;width:80.9px;height:20.5px;"><span>79-0340 l90-jul93</span></div>
<div class="c d  " style="left:508.3px;top:121.8px;width:80.9px;height:20.5px;"><span>79-0335 apr89-aug93</span></div>
<div class="c d   sh" style="left:508.3px;top:142.3px;width:80.9px;height:10.2px;margin-top:-1px;"><span>79-0349 l89m93</span></div>
<div class="c d  " style="left:508.3px;top:152.5px;width:80.9px;height:20.4px;"><span>79-0337 e89-m94<br>138TFS</span></div>
<div class="c d  " style="left:508.3px;top:172.9px;width:80.9px;height:24.7px;"><span>79-0351 l89-m94</span></div>
<div class="c d   sh" style="left:508.3px;top:197.6px;width:80.9px;height:11.3px;"><span>79-0352 e89-m94</span></div>
<div class="c d  " style="left:508.3px;top:208.9px;width:80.9px;height:20.5px;"><span>79-0366 e89-e94</span></div>
<div class="c d  " style="left:508.3px;top:229.4px;width:80.9px;height:20.3px;"><span>79-0368 e89-e94</span></div>
<div class="c d   sh" style="left:508.3px;top:249.7px;width:80.9px;height:12.0px;"><span>79-0373 e89-l94</span></div>
<div class="c d   sh" style="left:508.3px;top:261.7px;width:80.9px;height:10.4px;"><span>79-0382 m89-e94</span></div>
<div class="c d  " style="left:508.3px;top:272.1px;width:80.9px;height:20.4px;"><span>79-0388 e89-e94</span></div>
<div class="c d  " style="left:508.3px;top:292.5px;width:80.9px;height:24.2px;"><span>79-0394 l89-m94</span></div>
<div class="c d  " style="left:508.3px;top:316.7px;width:80.9px;height:20.1px;"><span>79-0399 l89-m94</span></div>
<div class="c d   sh" style="left:508.3px;top:336.8px;width:80.9px;height:12.1px;"><span>79-0401 l89-e94</span></div>
<div class="c d  " style="left:508.3px;top:348.9px;width:80.9px;height:20.4px;"><span>79-0403 174TFW l89-<br>m94</span></div>
<div class="c d   sh" style="left:508.3px;top:369.3px;width:80.9px;height:10.4px;margin-top:-1px;"><span>79-0404 e89-m95</span></div>
<div class="c d   sh" style="left:508.3px;top:379.7px;width:80.9px;height:12.1px;margin-top:-1px;"><span>79-0406 m89-e94</span></div>
<div class="c d  i sh" style="left:508.3px;top:391.8px;width:80.9px;height:10.2px;"><span>80-0504 l90-m93</span></div>
<div class="c d  i rt sh" style="left:508.3px;top:402.0px;width:80.9px;height:10.3px;"><span>80-0488 m92-m93</span></div>
<div class="c d  " style="left:607.8px;top:60.3px;width:84.7px;height:20.5px;"><span>80-0592 e86-l89</span></div>
<div class="c d  " style="left:607.8px;top:80.8px;width:84.7px;height:20.5px;"><span>78-0005 m89-l95</span></div>
<div class="c d  " style="left:607.8px;top:101.3px;width:84.7px;height:20.5px;"><span>78-0056 l88-m96</span></div>
<div class="c d  " style="left:607.8px;top:121.8px;width:84.7px;height:20.5px;"><span>78-0063 m89-e94</span></div>
<div class="c d   sh" style="left:607.8px;top:142.3px;width:84.7px;height:10.2px;margin-top:-1px;"><span>78-0069 m89-m93</span></div>
<div class="c d  " style="left:607.8px;top:152.5px;width:84.7px;height:20.4px;"><span>79-0345 m89-e94</span></div>
<div class="c d  big" style="left:607.8px;top:172.9px;width:84.7px;height:24.7px;"><span>80-0499 e89-00</span></div>
<div class="c d   sh" style="left:607.8px;top:197.6px;width:84.7px;height:11.3px;"><span>80-0502 m89-l94</span></div>
<div class="c d  " style="left:607.8px;top:208.9px;width:84.7px;height:20.5px;"><span>80-0514 m89-l94</span></div>
<div class="c d  " style="left:607.8px;top:229.4px;width:84.7px;height:20.3px;"><span>80-0524 m88-m00</span></div>
<div class="c d   sh" style="left:607.8px;top:249.7px;width:84.7px;height:12.0px;"><span>80-0532 e89-m91</span></div>
<div class="c d  n ctr" style="left:607.8px;top:272.1px;width:84.7px;height:20.4px;"><span>dutch</span></div>
<div class="c d  " style="left:607.8px;top:292.5px;width:84.7px;height:24.2px;"><span>78-0219 e89-e94</span></div>
<div class="c d  " style="left:607.8px;top:316.7px;width:84.7px;height:20.1px;"><span>78-0221 e89-e95</span></div>
<div class="c d   sh" style="left:607.8px;top:336.8px;width:84.7px;height:12.1px;"><span>78-0222 e89-e95</span></div>
<div class="c d  " style="left:607.8px;top:348.9px;width:84.7px;height:20.4px;"><span>78-0229 e89-e94</span></div>
<div class="c d   sh" style="left:607.8px;top:369.3px;width:84.7px;height:10.4px;margin-top:-1px;"><span>78-0242 e89-e94</span></div>
<div class="c d   sh" style="left:607.8px;top:379.7px;width:84.7px;height:12.1px;margin-top:-1px;"><span>78-0247 e90-e95</span></div>
<div class="c d   sh" style="left:607.8px;top:391.8px;width:84.7px;height:10.2px;"><span>78-0257 l89-e94</span></div>
<div class="c d  " style="left:692.5px;top:60.3px;width:85.0px;height:20.5px;"><span>78-0008 e91-e00</span></div>
<div class="c d  big" style="left:692.5px;top:80.8px;width:85.0px;height:20.5px;"><span>78-0015 m91-l01</span></div>
<div class="c d  " style="left:692.5px;top:101.3px;width:85.0px;height:20.5px;"><span>79-0324 l91-l96</span></div>
<div class="c d  i" style="left:692.5px;top:121.8px;width:85.0px;height:20.5px;"><span>79-0389&nbsp; l91-m96</span></div>
<div class="c d  i sh" style="left:692.5px;top:142.3px;width:85.0px;height:10.2px;margin-top:-1px;"><span>79-0357 l91-l00</span></div>
<div class="c d  big" style="left:692.5px;top:152.5px;width:85.0px;height:20.4px;"><span>79-0362 e91-l96</span></div>
<div class="c d  i" style="left:692.5px;top:172.9px;width:85.0px;height:24.7px;"><span>79-0364 m91-l05</span></div>
<div class="c d  big sh" style="left:692.5px;top:197.6px;width:85.0px;height:11.3px;"><span>78-0044 m91-e00</span></div>
<div class="c d  big" style="left:692.5px;top:208.9px;width:85.0px;height:20.5px;"><span>80-0492 l91 162FW</span></div>
<div class="c d  i" style="left:692.5px;top:229.4px;width:85.0px;height:20.3px;"><span>79-0327 l91-m93</span></div>
<div class="c d  i sh" style="left:692.5px;top:249.7px;width:85.0px;height:12.0px;"><span>80-0528 l91-l94</span></div>
<div class="c d   sh" style="left:692.5px;top:261.7px;width:85.0px;height:10.4px;"><span>79-0289 m92</span></div>
<div class="c d  " style="left:692.5px;top:272.1px;width:85.0px;height:20.4px;"><span>79-0296 l92</span></div>
<div class="c d  " style="left:692.5px;top:292.5px;width:85.0px;height:24.2px;"><span>80-0486 l92-feb94w/o</span></div>
<div class="c d  " style="left:692.5px;top:316.7px;width:85.0px;height:20.1px;"><span>78-0026 m92-e01</span></div>
<div class="c d   sh" style="left:692.5px;top:336.8px;width:85.0px;height:12.1px;"><span>79-0370 l92-l01</span></div>
<div class="c d  " style="left:692.5px;top:348.9px;width:85.0px;height:20.4px;"><span>80-0527 e92-e02</span></div>
<div class="c d   sh" style="left:692.5px;top:369.3px;width:85.0px;height:10.4px;margin-top:-1px;"><span>79-0303 m92-l96</span></div>
<div class="c d  i sh" style="left:692.5px;top:379.7px;width:85.0px;height:12.1px;margin-top:-1px;"><span>80-0504 m93-m04</span></div>
<div class="c d  i sh" style="left:692.5px;top:391.8px;width:85.0px;height:10.2px;"><span>80-0505 m94</span></div>
<div class="c d  i sh" style="left:692.5px;top:402.0px;width:85.0px;height:10.3px;"><span>79-0368 m94-m07</span></div>
<div class="c d gr i gr" style="left:796.7px;top:60.3px;width:70.8px;height:20.5px;"><span>81-0790 e91-e94</span></div>
<div class="c d gr " style="left:796.7px;top:80.8px;width:70.8px;height:20.5px;"><span>81-0792 e91-l94</span></div>
<div class="c d gr " style="left:796.7px;top:101.3px;width:70.8px;height:20.5px;"><span>82-0952 e91-l94</span></div>
<div class="c d gr " style="left:796.7px;top:121.8px;width:70.8px;height:20.5px;"><span>82-0968 m91-l94</span></div>
<div class="c d gr i gr sh" style="left:796.7px;top:142.3px;width:70.8px;height:10.2px;margin-top:-1px;"><span>82-0975 e91-l94</span></div>
<div class="c d gr " style="left:796.7px;top:152.5px;width:70.8px;height:20.4px;"><span>82-0977 e91-l94</span></div>
<div class="c d gr " style="left:796.7px;top:172.9px;width:70.8px;height:24.7px;"><span>82-0986 e91-l94</span></div>
<div class="c d gr  sh" style="left:796.7px;top:197.6px;width:70.8px;height:11.3px;"><span>82-0988 m91-l94</span></div>
<div class="c d gr " style="left:796.7px;top:208.9px;width:70.8px;height:20.5px;"><span>82-1002 m91-l94</span></div>
<div class="c d gr i gr" style="left:796.7px;top:229.4px;width:70.8px;height:20.3px;"><span>82-1004 m91-l94</span></div>
<div class="c d gr  sh" style="left:796.7px;top:249.7px;width:70.8px;height:12.0px;"><span>82-1017 e91-l94</span></div>
<div class="c d gr  sh" style="left:796.7px;top:261.7px;width:70.8px;height:10.4px;"><span>82-1024 e91-m94</span></div>
<div class="c d gr " style="left:796.7px;top:272.1px;width:70.8px;height:20.4px;"><span>83-1068 m91-l94</span></div>
<div class="c d gr " style="left:796.7px;top:292.5px;width:70.8px;height:24.2px;"><span>83-1073 m91-l94</span></div>
<div class="c d gr " style="left:796.7px;top:316.7px;width:70.8px;height:20.1px;"><span>83-1075 m91-m94</span></div>
<div class="c d gr i gr sh" style="left:796.7px;top:336.8px;width:70.8px;height:12.1px;"><span>83-1077 e91-l94</span></div>
<div class="c d gr " style="left:796.7px;top:348.9px;width:70.8px;height:20.4px;"><span>83-1083 e91-l94<br>183TFG</span></div>
<div class="c d gr  sh" style="left:796.7px;top:369.3px;width:70.8px;height:10.4px;margin-top:-1px;"><span>83-1084 e91-l94</span></div>
<div class="c d gr big sh" style="left:796.7px;top:379.7px;width:70.8px;height:12.1px;margin-top:-1px;"><span>83-1085 e91-e94</span></div>
<div class="c d gr  sh" style="left:796.7px;top:391.8px;width:70.8px;height:10.2px;"><span>83-1092 m91-e95</span></div>
<div class="c d gr  sh" style="left:796.7px;top:402.0px;width:70.8px;height:10.3px;"><span>83-1107 unk-m94</span></div>
<div class="c d gr i gr" style="left:796.7px;top:412.3px;width:70.8px;height:20.2px;"><span>83-1111 e91-m94</span></div>
<div class="c d gr " style="left:796.7px;top:432.5px;width:70.8px;height:20.6px;margin-top:1px;"><span>83-1112 m91-l94</span></div>
<div class="c d gr i gr sh" style="left:796.7px;top:453.1px;width:70.8px;height:12.0px;"><span>82-0944 l91-l94</span></div>
<div class="c d gr  sh" style="left:796.7px;top:465.1px;width:70.8px;height:12.1px;"><span>83-1072 e92-l94</span></div>
<div class="c d gr " style="left:796.7px;top:477.2px;width:70.8px;height:20.3px;"><span>82-0943 e92-w/o<br>jul92</span></div>
<div class="c d gr bi" style="left:867.5px;top:60.3px;width:69.7px;height:20.5px;"><span>82-0917 m90-l91?</span></div>
<div class="c d gr bi" style="left:867.5px;top:80.8px;width:69.7px;height:20.5px;"><span>82-0921 m90- l93</span></div>
<div class="c d gr bi" style="left:867.5px;top:101.3px;width:69.7px;height:20.5px;"><span>82-0923 m90-l91</span></div>
<div class="c d gr i" style="left:867.5px;top:121.8px;width:69.7px;height:20.5px;"><span>82-0932 m90-e91</span></div>
<div class="c d gr i sh" style="left:867.5px;top:142.3px;width:69.7px;height:10.2px;margin-top:-1px;"><span>82-0934 m90-e92</span></div>
<div class="c d gr i" style="left:867.5px;top:152.5px;width:69.7px;height:20.4px;"><span>82-0935 m90-l91</span></div>
<div class="c d gr " style="left:867.5px;top:172.9px;width:69.7px;height:24.7px;"><span>82-0947 l89-m92</span></div>
<div class="c d gr  sh" style="left:867.5px;top:197.6px;width:69.7px;height:11.3px;"><span>82-0953 m89-e92</span></div>
<div class="c d gr bi" style="left:867.5px;top:208.9px;width:69.7px;height:20.5px;"><span>82-0961 m89-m91<br>170TFS</span></div>
<div class="c d gr i" style="left:867.5px;top:229.4px;width:69.7px;height:20.3px;"><span>82-0966 l89-e92<br>183TFG</span></div>
<div class="c d gr bi sh" style="left:867.5px;top:249.7px;width:69.7px;height:12.0px;"><span>82-0984 m90-l91</span></div>
<div class="c d gr i sh" style="left:867.5px;top:261.7px;width:69.7px;height:10.4px;"><span>82-0987 m90-e91</span></div>
<div class="c d gr bi" style="left:867.5px;top:272.1px;width:69.7px;height:20.4px;"><span>82-0995 m89-l91</span></div>
<div class="c d gr bi" style="left:867.5px;top:292.5px;width:69.7px;height:24.2px;"><span>82-1008 m89-l91</span></div>
<div class="c d gr " style="left:956.3px;top:60.3px;width:92.0px;height:20.5px;"><span>82-0920 m88-apr91w/o</span></div>
<div class="c d gr " style="left:956.3px;top:80.8px;width:92.0px;height:20.5px;"><span>82-0927 m88-dec93w/o</span></div>
<div class="c d gr " style="left:956.3px;top:101.3px;width:92.0px;height:20.5px;"><span>82-1018 l89-ju95w/o</span></div>
<div class="c d gr " style="left:956.3px;top:121.8px;width:92.0px;height:20.5px;"><span>82-1020 m88-nov96w/o</span></div>
<div class="c d gr  sh" style="left:956.3px;top:142.3px;width:92.0px;height:10.2px;margin-top:-1px;"><span>82-0902 e89-06</span></div>
<div class="c d gr " style="left:956.3px;top:152.5px;width:92.0px;height:20.4px;"><span>82-0911 e89-e01</span></div>
<div class="c d gr " style="left:956.3px;top:172.9px;width:92.0px;height:24.7px;"><span>82-0924 e89-m01</span></div>
<div class="c d gr  sh" style="left:956.3px;top:197.6px;width:92.0px;height:11.3px;"><span>82-0928 m88-unk 188FG</span></div>
<div class="c d gr " style="left:956.3px;top:208.9px;width:92.0px;height:20.5px;"><span>82-0946 m89-e00</span></div>
<div class="c d gr " style="left:956.3px;top:229.4px;width:92.0px;height:20.3px;"><span>82-0949 e89-m00</span></div>
<div class="c d gr  sh" style="left:956.3px;top:249.7px;width:92.0px;height:12.0px;"><span>82-0957 e89-e00</span></div>
<div class="c d gr  sh" style="left:956.3px;top:261.7px;width:92.0px;height:10.4px;"><span>82-0970 m88-00</span></div>
<div class="c d gr " style="left:956.3px;top:272.1px;width:92.0px;height:20.4px;"><span>82-0980 e89-l01</span></div>
<div class="c d gr " style="left:956.3px;top:292.5px;width:92.0px;height:24.2px;"><span>82-1009 e89-l91</span></div>
<div class="c d gr " style="left:956.3px;top:316.7px;width:92.0px;height:20.1px;"><span>82-1013 m89-e02</span></div>
<div class="c d gr  sh" style="left:956.3px;top:336.8px;width:92.0px;height:12.1px;"><span>82-1025 m89-m01</span></div>
<div class="c d gr " style="left:956.3px;top:348.9px;width:92.0px;height:20.4px;"><span>83-1079 e89-l01</span></div>
<div class="c d gr  sh" style="left:956.3px;top:369.3px;width:92.0px;height:10.4px;margin-top:-1px;"><span>83-1087 m88-m01</span></div>
<div class="c d gr  sh" style="left:956.3px;top:379.7px;width:92.0px;height:12.1px;margin-top:-1px;"><span>83-1095 e92-e04</span></div>
<div class="c d gr  sh" style="left:956.3px;top:391.8px;width:92.0px;height:10.2px;"><span>82-0964 e92-e02</span></div>
<div class="c d gr  sh" style="left:956.3px;top:402.0px;width:92.0px;height:10.3px;"><span>83-1099 m92-l02</span></div>
<div class="c d nv " style="left:1067.5px;top:60.3px;width:64.2px;height:20.5px;"><span>78-0054 aug91<br>412TW'93</span></div>
<div class="c d nv " style="left:1067.5px;top:80.8px;width:64.2px;height:20.5px;"><span>78-0007 aug91</span></div>
<div class="c d nv " style="left:1067.5px;top:101.3px;width:64.2px;height:20.5px;"><span>78-0064</span></div>
<div class="c d nv " style="left:1067.5px;top:121.8px;width:64.2px;height:20.5px;"><span>81-0688</span></div>
<div class="c d nv  sh" style="left:1067.5px;top:142.3px;width:64.2px;height:10.2px;margin-top:-1px;"><span>78-0080B</span></div>
<div class="c d nv " style="left:1067.5px;top:152.5px;width:64.2px;height:20.4px;"><span>78-0081B</span></div>
<div class="c d nv " style="left:1067.5px;top:172.9px;width:64.2px;height:24.7px;"><span>78-0085B l91</span></div>
<div class="c d nv  sh" style="left:1067.5px;top:197.6px;width:64.2px;height:11.3px;"><span>78-0088B</span></div>
<div class="c d nv " style="left:1067.5px;top:208.9px;width:64.2px;height:20.5px;"><span>78-0089B</span></div>
<div class="c d nv " style="left:1067.5px;top:229.4px;width:64.2px;height:20.3px;"><span>78-0096B</span></div>
<div class="c d nv  sh" style="left:1067.5px;top:249.7px;width:64.2px;height:12.0px;"><span>78-0098B</span></div>
<div class="c d nv  sh" style="left:1067.5px;top:261.7px;width:64.2px;height:10.4px;"><span>78-0099B</span></div>
<div class="c d  " style="left:1131.7px;top:60.3px;width:68.3px;height:20.5px;"><span>78-0075 m84-<br>oct86w/o</span></div>
<div class="c d  " style="left:1131.7px;top:80.8px;width:68.3px;height:20.5px;"><span>78-0041 m84-<br>mar90w/o</span></div>
<div class="c d  " style="left:1131.7px;top:101.3px;width:68.3px;height:20.5px;"><span>78-0045 m84-<br>mar90w/o</span></div>
<div class="c d  " style="left:1131.7px;top:121.8px;width:68.3px;height:20.5px;"><span>78-0070 l83-m94</span></div>
<div class="c d   sh" style="left:1131.7px;top:142.3px;width:68.3px;height:10.2px;margin-top:-1px;"><span>78-0022 m84-m94</span></div>
<div class="c d  " style="left:1131.7px;top:152.5px;width:68.3px;height:20.4px;"><span>78-0024 m84-m94</span></div>
<div class="c d  " style="left:1131.7px;top:172.9px;width:68.3px;height:24.7px;"><span>78-0025 e84-e94</span></div>
<div class="c d   sh" style="left:1131.7px;top:197.6px;width:68.3px;height:11.3px;"><span>78-0027 m84-e95</span></div>
<div class="c d  " style="left:1131.7px;top:208.9px;width:68.3px;height:20.5px;"><span>78-0038 m84-m94</span></div>
<div class="c d  " style="left:1131.7px;top:229.4px;width:68.3px;height:20.3px;"><span>78-0039 m84-e39</span></div>
<div class="c d   sh" style="left:1131.7px;top:249.7px;width:68.3px;height:12.0px;"><span>78-0040 m84-m94</span></div>
<div class="c d   sh" style="left:1131.7px;top:261.7px;width:68.3px;height:10.4px;"><span>78-0047 m84-m89</span></div>
<div class="c d  " style="left:1131.7px;top:272.1px;width:68.3px;height:20.4px;"><span>78-0052 l84-e94</span></div>
<div class="c d  " style="left:1131.7px;top:292.5px;width:68.3px;height:24.2px;"><span>78-0065 e84-e94</span></div>
<div class="c d  " style="left:1131.7px;top:316.7px;width:68.3px;height:20.1px;"><span>78-0066 e84-e94</span></div>
<div class="c d   sh" style="left:1131.7px;top:336.8px;width:68.3px;height:12.1px;"><span>78-0068 l84-m94</span></div>
<div class="c d  " style="left:1131.7px;top:348.9px;width:68.3px;height:20.4px;"><span>78-0073 m84-m94</span></div>
<div class="c d   sh" style="left:1131.7px;top:369.3px;width:68.3px;height:10.4px;margin-top:-1px;"><span>78-0074 m84-m94</span></div>
<div class="c d   sh" style="left:1131.7px;top:379.7px;width:68.3px;height:12.1px;margin-top:-1px;"><span>78-0076 m84-m94</span></div>
<div class="c d   sh" style="left:1131.7px;top:391.8px;width:68.3px;height:10.2px;"><span>78-0050 m85-e95</span></div>
<div class="c d   sh" style="left:1131.7px;top:402.0px;width:68.3px;height:10.3px;"><span>78-0053 m85-e94</span></div>
<div class="c d  " style="left:1131.7px;top:412.3px;width:68.3px;height:20.2px;"><span>78-0060 l85-l94</span></div>
<div class="c d  " style="left:1131.7px;top:432.5px;width:68.3px;height:20.6px;margin-top:1px;"><span>78-0051&nbsp; l85-e93</span></div>
<div class="c d   sh" style="left:1131.7px;top:453.1px;width:68.3px;height:12.0px;"><span>78-0019 l86-m94</span></div>
<div class="c d   sh" style="left:1131.7px;top:465.1px;width:68.3px;height:12.1px;"><span>78-0021 l86-l95</span></div>
<div class="c d  " style="left:1131.7px;top:477.2px;width:68.3px;height:20.3px;"><span>79-0348 l89-m94</span></div>
<div class="c d  i sh" style="left:1131.7px;top:497.5px;width:68.3px;height:12.2px;margin-top:-1px;"><span>78-0057 e91-l93</span></div>
<div class="c d n rd sh" style="left:150.3px;top:541.9px;width:72.5px;height:11.8px;font-size:7.9px;"><span>79-0303 unk-m92</span></div>
<div class="c d n rd sh" style="left:150.3px;top:553.7px;width:72.5px;height:12.0px;font-size:7.9px;"><span>78-0020 l88-m92</span></div>
<div class="c d n or rt sh" style="left:241.7px;top:541.9px;width:74.6px;height:11.8px;"><span>79-0368 m94</span></div>
<div class="c d n or rt sh" style="left:316.3px;top:541.9px;width:86.7px;height:11.8px;"><span>78-0044 may91-apr92</span></div>
<div class="c d n or rt sh" style="left:316.3px;top:553.7px;width:86.7px;height:12.0px;"><span>80-0486 may90-oct92</span></div>
<div class="c d i rd rt sh" style="left:1131.7px;top:541.9px;width:68.3px;height:11.8px;font-size:7.7px;padding-right:1.5px;color:#b0343a;"><span>79-0354 l89</span></div>
</div></body></html>
